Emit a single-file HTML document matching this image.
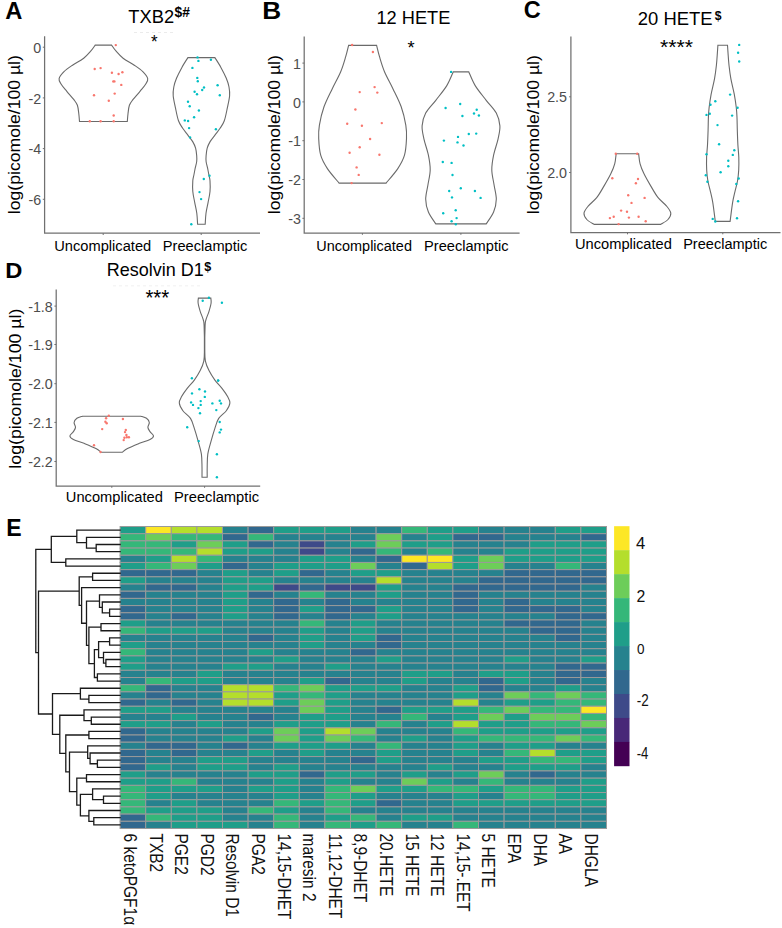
<!DOCTYPE html><html><head><meta charset="utf-8"><style>html,body{margin:0;padding:0;background:#fff;}body{width:782px;height:928px;position:relative;overflow:hidden;font-family:"Liberation Sans",sans-serif;}</style></head><body><svg width="782" height="928" viewBox="0 0 782 928" style="position:absolute;left:0;top:0;font-family:&quot;Liberation Sans&quot;,sans-serif">
<rect width="782" height="928" fill="#fff"/>
<text transform="translate(5.21,19.00) scale(1.0108,1)" font-size="23.48" font-weight="bold" fill="#000">A</text>
<text transform="translate(262.30,19.00) scale(1.1172,1)" font-size="23.48" font-weight="bold" fill="#000">B</text>
<text transform="translate(523.66,18.40) scale(1.0076,1)" font-size="23.33" font-weight="bold" fill="#000">C</text>
<text transform="translate(5.36,278.00) scale(1.0706,1)" font-size="22.17" font-weight="bold" fill="#000">D</text>
<text transform="translate(6.20,536.00) scale(0.9564,1)" font-size="24.06" font-weight="bold" fill="#000">E</text>
<path d="M44.6,36.3 V233.2 H260.0" fill="none" stroke="#707070" stroke-width="1.25"/>
<line x1="42.800000000000004" y1="47.2" x2="44.6" y2="47.2" stroke="#707070" stroke-width="1"/>
<line x1="42.800000000000004" y1="97.9" x2="44.6" y2="97.9" stroke="#707070" stroke-width="1"/>
<line x1="42.800000000000004" y1="148.6" x2="44.6" y2="148.6" stroke="#707070" stroke-width="1"/>
<line x1="42.800000000000004" y1="199.3" x2="44.6" y2="199.3" stroke="#707070" stroke-width="1"/>
<line x1="103.2" y1="233.2" x2="103.2" y2="235.0" stroke="#707070" stroke-width="1"/>
<line x1="201.2" y1="233.2" x2="201.2" y2="235.0" stroke="#707070" stroke-width="1"/>
<text x="41.3" y="52.88" font-size="14.3" fill="#4D4D4D" text-anchor="end">0</text>
<text x="41.3" y="103.58" font-size="14.3" fill="#4D4D4D" text-anchor="end">-2</text>
<text x="41.3" y="154.28" font-size="14.3" fill="#4D4D4D" text-anchor="end">-4</text>
<text x="41.3" y="204.98" font-size="14.3" fill="#4D4D4D" text-anchor="end">-6</text>
<text transform="translate(19.90,214.15) rotate(-90) scale(1.0143,1)" font-size="17.38" font-weight="normal" fill="#000">log(picomole/100 µl)</text>
<text transform="translate(54.20,250.70) scale(1.0124,1)" font-size="14.49" font-weight="normal" fill="#000">Uncomplicated</text>
<text transform="translate(162.83,250.70) scale(1.0092,1)" font-size="14.49" font-weight="normal" fill="#000">Preeclamptic</text>
<text transform="translate(128.33,23.00) scale(0.9861,1)" font-size="18.57" font-weight="normal" fill="#000">TXB2</text>
<text transform="translate(174.49,16.81) scale(0.9529,1)" font-size="14.48" font-weight="bold" fill="#000">$#</text>
<line x1="134" y1="32.5" x2="173" y2="32.5" stroke="#e6e6e6" stroke-width="0.8" stroke-dasharray="3 3"/>
<text transform="translate(150.95,48.31) scale(0.8986,1)" font-size="18.86" font-weight="normal" fill="#000">*</text>
<path d="M95.20,45.10 L111.60,45.10 C112.35,46.12 114.18,49.02 116.10,51.20 C118.02,53.38 120.07,55.87 123.10,58.20 C126.13,60.53 131.02,62.97 134.30,65.20 C137.58,67.43 140.57,69.37 142.80,71.60 C145.03,73.83 147.23,76.50 147.70,78.60 C148.17,80.70 146.88,82.08 145.60,84.20 C144.32,86.32 142.12,88.72 140.00,91.30 C137.88,93.88 134.67,97.37 132.90,99.70 C131.13,102.03 130.22,102.95 129.40,105.30 C128.58,107.65 128.35,111.10 128.00,113.80 C127.65,116.50 127.42,120.22 127.30,121.50 L79.50,121.50 C79.38,120.22 79.15,116.50 78.80,113.80 C78.45,111.10 78.22,107.65 77.40,105.30 C76.58,102.95 75.67,102.03 73.90,99.70 C72.13,97.37 68.92,93.88 66.80,91.30 C64.68,88.72 62.48,86.32 61.20,84.20 C59.92,82.08 58.63,80.70 59.10,78.60 C59.57,76.50 61.77,73.83 64.00,71.60 C66.23,69.37 69.22,67.43 72.50,65.20 C75.78,62.97 80.67,60.53 83.70,58.20 C86.73,55.87 88.78,53.38 90.70,51.20 C92.62,49.02 94.45,46.12 95.20,45.10 Z" fill="none" stroke="#6a6a6a" stroke-width="1.1"/>
<circle cx="115.8" cy="45.1" r="1.2" fill="#F8766D"/>
<circle cx="94.7" cy="69.0" r="1.2" fill="#F8766D"/>
<circle cx="100.6" cy="68.1" r="1.2" fill="#F8766D"/>
<circle cx="111.9" cy="72.7" r="1.2" fill="#F8766D"/>
<circle cx="118.6" cy="74.0" r="1.2" fill="#F8766D"/>
<circle cx="122.4" cy="72.3" r="1.2" fill="#F8766D"/>
<circle cx="113.3" cy="81.4" r="1.2" fill="#F8766D"/>
<circle cx="114.4" cy="81.4" r="1.2" fill="#F8766D"/>
<circle cx="121.3" cy="84.9" r="1.2" fill="#F8766D"/>
<circle cx="94.0" cy="95.2" r="1.2" fill="#F8766D"/>
<circle cx="114.7" cy="93.6" r="1.2" fill="#F8766D"/>
<circle cx="108.8" cy="100.7" r="1.2" fill="#F8766D"/>
<circle cx="113.7" cy="115.5" r="1.2" fill="#F8766D"/>
<circle cx="89.8" cy="121.2" r="1.2" fill="#F8766D"/>
<circle cx="100.6" cy="121.2" r="1.2" fill="#F8766D"/>
<circle cx="113.7" cy="121.2" r="1.2" fill="#F8766D"/>
<path d="M187.90,57.60 L214.90,57.60 C215.90,59.23 219.00,63.95 220.90,67.40 C222.80,70.85 224.95,75.03 226.30,78.30 C227.65,81.57 228.45,84.10 229.00,87.00 C229.55,89.90 229.87,92.27 229.60,95.70 C229.33,99.13 228.28,103.42 227.40,107.60 C226.52,111.78 225.52,117.35 224.30,120.80 C223.08,124.25 221.63,125.95 220.10,128.30 C218.57,130.65 216.77,132.68 215.10,134.90 C213.43,137.12 211.42,139.38 210.10,141.60 C208.78,143.82 207.87,145.85 207.20,148.20 C206.53,150.55 206.28,153.48 206.10,155.70 C205.92,157.92 205.85,159.42 206.10,161.50 C206.35,163.58 207.13,165.95 207.60,168.20 C208.07,170.45 208.50,172.92 208.90,175.00 C209.30,177.08 209.82,177.95 210.00,180.70 C210.18,183.45 210.32,187.88 210.00,191.50 C209.68,195.12 208.77,198.77 208.10,202.40 C207.43,206.03 206.48,209.65 206.00,213.30 C205.52,216.95 205.33,222.47 205.20,224.30 L197.60,224.30 C197.47,222.47 197.28,216.95 196.80,213.30 C196.32,209.65 195.37,206.03 194.70,202.40 C194.03,198.77 193.12,195.12 192.80,191.50 C192.48,187.88 192.62,183.45 192.80,180.70 C192.98,177.95 193.50,177.08 193.90,175.00 C194.30,172.92 194.73,170.45 195.20,168.20 C195.67,165.95 196.45,163.58 196.70,161.50 C196.95,159.42 196.88,157.92 196.70,155.70 C196.52,153.48 196.27,150.55 195.60,148.20 C194.93,145.85 194.02,143.82 192.70,141.60 C191.38,139.38 189.37,137.12 187.70,134.90 C186.03,132.68 184.23,130.65 182.70,128.30 C181.17,125.95 179.72,124.25 178.50,120.80 C177.28,117.35 176.28,111.78 175.40,107.60 C174.52,103.42 173.47,99.13 173.20,95.70 C172.93,92.27 173.25,89.90 173.80,87.00 C174.35,84.10 175.15,81.57 176.50,78.30 C177.85,75.03 180.00,70.85 181.90,67.40 C183.80,63.95 186.90,59.23 187.90,57.60 Z" fill="none" stroke="#6a6a6a" stroke-width="1.1"/>
<circle cx="197.5" cy="57.4" r="1.2" fill="#00BFC4"/>
<circle cx="198.4" cy="60.9" r="1.2" fill="#00BFC4"/>
<circle cx="210.9" cy="59.8" r="1.2" fill="#00BFC4"/>
<circle cx="192.4" cy="67.9" r="1.2" fill="#00BFC4"/>
<circle cx="197.3" cy="77.9" r="1.2" fill="#00BFC4"/>
<circle cx="197.8" cy="81.2" r="1.2" fill="#00BFC4"/>
<circle cx="217.6" cy="85.3" r="1.2" fill="#00BFC4"/>
<circle cx="204.0" cy="87.5" r="1.2" fill="#00BFC4"/>
<circle cx="202.2" cy="90.0" r="1.2" fill="#00BFC4"/>
<circle cx="194.6" cy="91.8" r="1.2" fill="#00BFC4"/>
<circle cx="197.0" cy="94.2" r="1.2" fill="#00BFC4"/>
<circle cx="219.8" cy="95.3" r="1.2" fill="#00BFC4"/>
<circle cx="188.0" cy="101.8" r="1.2" fill="#00BFC4"/>
<circle cx="189.7" cy="106.2" r="1.2" fill="#00BFC4"/>
<circle cx="198.9" cy="110.5" r="1.2" fill="#00BFC4"/>
<circle cx="194.1" cy="117.3" r="1.2" fill="#00BFC4"/>
<circle cx="184.8" cy="120.4" r="1.2" fill="#00BFC4"/>
<circle cx="188.1" cy="121.0" r="1.2" fill="#00BFC4"/>
<circle cx="189.1" cy="128.1" r="1.2" fill="#00BFC4"/>
<circle cx="215.9" cy="129.3" r="1.2" fill="#00BFC4"/>
<circle cx="190.1" cy="137.4" r="1.2" fill="#00BFC4"/>
<circle cx="209.5" cy="175.8" r="1.2" fill="#00BFC4"/>
<circle cx="203.8" cy="179.0" r="1.2" fill="#00BFC4"/>
<circle cx="199.5" cy="192.1" r="1.2" fill="#00BFC4"/>
<circle cx="201.1" cy="199.1" r="1.2" fill="#00BFC4"/>
<circle cx="191.3" cy="224.3" r="1.2" fill="#00BFC4"/>
<path d="M304.2,36.5 V233.0 H519.6" fill="none" stroke="#707070" stroke-width="1.25"/>
<line x1="302.4" y1="63.1" x2="304.2" y2="63.1" stroke="#707070" stroke-width="1"/>
<line x1="302.4" y1="101.9" x2="304.2" y2="101.9" stroke="#707070" stroke-width="1"/>
<line x1="302.4" y1="140.7" x2="304.2" y2="140.7" stroke="#707070" stroke-width="1"/>
<line x1="302.4" y1="179.5" x2="304.2" y2="179.5" stroke="#707070" stroke-width="1"/>
<line x1="302.4" y1="218.3" x2="304.2" y2="218.3" stroke="#707070" stroke-width="1"/>
<line x1="362.4" y1="233.0" x2="362.4" y2="234.8" stroke="#707070" stroke-width="1"/>
<line x1="460.9" y1="233.0" x2="460.9" y2="234.8" stroke="#707070" stroke-width="1"/>
<text x="300.9" y="68.78" font-size="14.3" fill="#4D4D4D" text-anchor="end">1</text>
<text x="300.9" y="107.58" font-size="14.3" fill="#4D4D4D" text-anchor="end">0</text>
<text x="300.9" y="146.38" font-size="14.3" fill="#4D4D4D" text-anchor="end">-1</text>
<text x="300.9" y="185.18" font-size="14.3" fill="#4D4D4D" text-anchor="end">-2</text>
<text x="300.9" y="223.98" font-size="14.3" fill="#4D4D4D" text-anchor="end">-3</text>
<text transform="translate(279.90,214.15) rotate(-90) scale(1.0143,1)" font-size="17.38" font-weight="normal" fill="#000">log(picomole/100 µl)</text>
<text transform="translate(316.31,250.50) scale(0.9985,1)" font-size="14.49" font-weight="normal" fill="#000">Uncomplicated</text>
<text transform="translate(424.03,250.50) scale(1.0092,1)" font-size="14.49" font-weight="normal" fill="#000">Preeclamptic</text>
<text transform="translate(376.43,24.20) scale(0.9664,1)" font-size="18.86" font-weight="normal" fill="#000">12 HETE</text>
<text transform="translate(407.43,54.01) scale(0.9577,1)" font-size="19.14" font-weight="normal" fill="#000">*</text>
<path d="M348.60,45.40 L376.60,45.40 C377.08,47.28 378.18,52.32 379.50,56.70 C380.82,61.08 382.28,66.42 384.50,71.70 C386.72,76.98 390.02,82.55 392.80,88.40 C395.58,94.25 399.03,100.67 401.20,106.80 C403.37,112.93 404.92,119.92 405.80,125.20 C406.68,130.48 406.72,133.50 406.50,138.50 C406.28,143.50 405.95,150.18 404.50,155.20 C403.05,160.22 400.87,163.95 397.80,168.60 C394.73,173.25 388.05,180.68 386.10,183.10 L339.10,183.10 C337.15,180.68 330.47,173.25 327.40,168.60 C324.33,163.95 322.15,160.22 320.70,155.20 C319.25,150.18 318.92,143.50 318.70,138.50 C318.48,133.50 318.52,130.48 319.40,125.20 C320.28,119.92 321.83,112.93 324.00,106.80 C326.17,100.67 329.62,94.25 332.40,88.40 C335.18,82.55 338.48,76.98 340.70,71.70 C342.92,66.42 344.38,61.08 345.70,56.70 C347.02,52.32 348.12,47.28 348.60,45.40 Z" fill="none" stroke="#6a6a6a" stroke-width="1.1"/>
<circle cx="352.1" cy="45.0" r="1.2" fill="#F8766D"/>
<circle cx="372.9" cy="52.0" r="1.2" fill="#F8766D"/>
<circle cx="374.6" cy="87.1" r="1.2" fill="#F8766D"/>
<circle cx="359.7" cy="92.1" r="1.2" fill="#F8766D"/>
<circle cx="377.3" cy="92.6" r="1.2" fill="#F8766D"/>
<circle cx="355.4" cy="109.5" r="1.2" fill="#F8766D"/>
<circle cx="347.2" cy="123.8" r="1.2" fill="#F8766D"/>
<circle cx="361.9" cy="125.8" r="1.2" fill="#F8766D"/>
<circle cx="381.8" cy="123.1" r="1.2" fill="#F8766D"/>
<circle cx="370.1" cy="139.0" r="1.2" fill="#F8766D"/>
<circle cx="359.7" cy="147.2" r="1.2" fill="#F8766D"/>
<circle cx="349.6" cy="152.7" r="1.2" fill="#F8766D"/>
<circle cx="379.4" cy="154.7" r="1.2" fill="#F8766D"/>
<circle cx="356.6" cy="167.4" r="1.2" fill="#F8766D"/>
<circle cx="358.7" cy="174.9" r="1.2" fill="#F8766D"/>
<circle cx="351.6" cy="183.1" r="1.2" fill="#F8766D"/>
<path d="M453.20,71.90 L468.80,71.90 C469.87,74.18 472.30,80.87 475.20,85.60 C478.10,90.33 482.68,95.72 486.20,100.30 C489.72,104.88 494.02,108.83 496.30,113.10 C498.58,117.37 499.60,121.62 499.90,125.90 C500.20,130.18 499.15,133.92 498.10,138.80 C497.05,143.68 494.65,150.02 493.60,155.20 C492.55,160.38 491.73,165.02 491.80,169.90 C491.87,174.78 493.25,179.62 494.00,184.50 C494.75,189.38 496.37,194.62 496.30,199.20 C496.23,203.78 495.28,207.88 493.60,212.00 C491.92,216.12 487.43,221.92 486.20,223.90 L435.80,223.90 C434.57,221.92 430.08,216.12 428.40,212.00 C426.72,207.88 425.77,203.78 425.70,199.20 C425.63,194.62 427.25,189.38 428.00,184.50 C428.75,179.62 430.13,174.78 430.20,169.90 C430.27,165.02 429.45,160.38 428.40,155.20 C427.35,150.02 424.95,143.68 423.90,138.80 C422.85,133.92 421.80,130.18 422.10,125.90 C422.40,121.62 423.42,117.37 425.70,113.10 C427.98,108.83 432.28,104.88 435.80,100.30 C439.32,95.72 443.90,90.33 446.80,85.60 C449.70,80.87 452.13,74.18 453.20,71.90 Z" fill="none" stroke="#6a6a6a" stroke-width="1.1"/>
<circle cx="451.1" cy="71.9" r="1.2" fill="#00BFC4"/>
<circle cx="460.2" cy="104.0" r="1.2" fill="#00BFC4"/>
<circle cx="445.6" cy="108.0" r="1.2" fill="#00BFC4"/>
<circle cx="476.7" cy="109.8" r="1.2" fill="#00BFC4"/>
<circle cx="474.0" cy="113.5" r="1.2" fill="#00BFC4"/>
<circle cx="478.9" cy="115.5" r="1.2" fill="#00BFC4"/>
<circle cx="462.4" cy="116.0" r="1.2" fill="#00BFC4"/>
<circle cx="468.8" cy="134.0" r="1.2" fill="#00BFC4"/>
<circle cx="476.2" cy="133.6" r="1.2" fill="#00BFC4"/>
<circle cx="458.0" cy="136.9" r="1.2" fill="#00BFC4"/>
<circle cx="443.9" cy="140.6" r="1.2" fill="#00BFC4"/>
<circle cx="457.5" cy="142.4" r="1.2" fill="#00BFC4"/>
<circle cx="463.5" cy="145.5" r="1.2" fill="#00BFC4"/>
<circle cx="442.8" cy="162.0" r="1.2" fill="#00BFC4"/>
<circle cx="451.6" cy="162.9" r="1.2" fill="#00BFC4"/>
<circle cx="452.5" cy="175.0" r="1.2" fill="#00BFC4"/>
<circle cx="460.8" cy="188.2" r="1.2" fill="#00BFC4"/>
<circle cx="449.2" cy="191.0" r="1.2" fill="#00BFC4"/>
<circle cx="474.9" cy="191.0" r="1.2" fill="#00BFC4"/>
<circle cx="452.0" cy="197.4" r="1.2" fill="#00BFC4"/>
<circle cx="480.6" cy="197.9" r="1.2" fill="#00BFC4"/>
<circle cx="455.7" cy="210.2" r="1.2" fill="#00BFC4"/>
<circle cx="443.2" cy="213.3" r="1.2" fill="#00BFC4"/>
<circle cx="456.6" cy="218.1" r="1.2" fill="#00BFC4"/>
<circle cx="451.6" cy="221.2" r="1.2" fill="#00BFC4"/>
<circle cx="455.8" cy="224.3" r="1.2" fill="#00BFC4"/>
<path d="M570.9,36.6 V232.5 H780.5" fill="none" stroke="#707070" stroke-width="1.25"/>
<line x1="569.1" y1="96.8" x2="570.9" y2="96.8" stroke="#707070" stroke-width="1"/>
<line x1="569.1" y1="172.5" x2="570.9" y2="172.5" stroke="#707070" stroke-width="1"/>
<line x1="627.5" y1="232.5" x2="627.5" y2="234.3" stroke="#707070" stroke-width="1"/>
<line x1="722.8" y1="232.5" x2="722.8" y2="234.3" stroke="#707070" stroke-width="1"/>
<text x="567.0" y="102.48" font-size="14.3" fill="#4D4D4D" text-anchor="end">2.5</text>
<text x="567.0" y="178.18" font-size="14.3" fill="#4D4D4D" text-anchor="end">2.0</text>
<text transform="translate(539.40,214.15) rotate(-90) scale(1.0143,1)" font-size="17.38" font-weight="normal" fill="#000">log(picomole/100 µl)</text>
<text transform="translate(575.00,249.40) scale(1.0113,1)" font-size="14.49" font-weight="normal" fill="#000">Uncomplicated</text>
<text transform="translate(683.13,249.40) scale(1.0055,1)" font-size="14.49" font-weight="normal" fill="#000">Preeclamptic</text>
<text transform="translate(637.78,24.60) scale(0.9851,1)" font-size="18.71" font-weight="normal" fill="#000">20 HETE</text>
<text transform="translate(714.82,20.16) scale(0.9740,1)" font-size="12.52" font-weight="bold" fill="#000">$</text>
<text transform="translate(659.98,54.30) scale(1.0777,1)" font-size="19.71" font-weight="normal" fill="#000">****</text>
<path d="M616.15,153.80 L638.65,153.80 C638.89,155.48 639.21,160.57 640.10,163.90 C640.99,167.23 642.18,170.05 644.00,173.80 C645.82,177.55 648.65,182.42 651.00,186.40 C653.35,190.38 655.50,194.42 658.10,197.70 C660.70,200.98 664.48,203.53 666.60,206.10 C668.72,208.67 670.57,210.87 670.80,213.10 C671.03,215.33 669.68,217.62 668.00,219.50 C666.32,221.38 661.92,223.58 660.70,224.40 L594.10,224.40 C592.88,223.58 588.48,221.38 586.80,219.50 C585.12,217.62 583.77,215.33 584.00,213.10 C584.23,210.87 586.08,208.67 588.20,206.10 C590.32,203.53 594.10,200.98 596.70,197.70 C599.30,194.42 601.45,190.38 603.80,186.40 C606.15,182.42 608.98,177.55 610.80,173.80 C612.62,170.05 613.81,167.23 614.70,163.90 C615.59,160.57 615.91,155.48 616.15,153.80 Z" fill="none" stroke="#6a6a6a" stroke-width="1.1"/>
<circle cx="615.8" cy="153.8" r="1.2" fill="#F8766D"/>
<circle cx="637.2" cy="153.8" r="1.2" fill="#F8766D"/>
<circle cx="612.3" cy="178.3" r="1.2" fill="#F8766D"/>
<circle cx="638.0" cy="179.0" r="1.2" fill="#F8766D"/>
<circle cx="635.9" cy="183.3" r="1.2" fill="#F8766D"/>
<circle cx="628.2" cy="195.3" r="1.2" fill="#F8766D"/>
<circle cx="644.6" cy="197.9" r="1.2" fill="#F8766D"/>
<circle cx="631.5" cy="202.9" r="1.2" fill="#F8766D"/>
<circle cx="621.1" cy="210.6" r="1.2" fill="#F8766D"/>
<circle cx="627.0" cy="211.7" r="1.2" fill="#F8766D"/>
<circle cx="609.9" cy="218.1" r="1.2" fill="#F8766D"/>
<circle cx="613.7" cy="216.7" r="1.2" fill="#F8766D"/>
<circle cx="628.9" cy="217.6" r="1.2" fill="#F8766D"/>
<circle cx="638.6" cy="216.7" r="1.2" fill="#F8766D"/>
<circle cx="645.7" cy="221.2" r="1.2" fill="#F8766D"/>
<circle cx="618.6" cy="224.1" r="1.2" fill="#F8766D"/>
<path d="M717.90,45.20 L727.50,45.20 C727.58,46.43 727.75,49.27 728.00,52.60 C728.25,55.93 728.52,60.83 729.00,65.20 C729.48,69.57 730.02,73.95 730.90,78.80 C731.78,83.65 733.40,89.47 734.30,94.30 C735.20,99.13 735.85,103.93 736.30,107.80 C736.75,111.67 736.83,113.80 737.00,117.50 C737.17,121.20 737.15,125.42 737.30,130.00 C737.45,134.58 737.65,140.45 737.90,145.00 C738.15,149.55 738.67,153.08 738.80,157.30 C738.93,161.52 738.92,166.35 738.70,170.30 C738.48,174.25 738.13,177.42 737.50,181.00 C736.87,184.58 735.72,188.20 734.90,191.80 C734.08,195.40 733.40,197.67 732.60,202.60 C731.80,207.53 730.52,218.27 730.10,221.40 L715.30,221.40 C714.88,218.27 713.60,207.53 712.80,202.60 C712.00,197.67 711.32,195.40 710.50,191.80 C709.68,188.20 708.53,184.58 707.90,181.00 C707.27,177.42 706.92,174.25 706.70,170.30 C706.48,166.35 706.47,161.52 706.60,157.30 C706.73,153.08 707.25,149.55 707.50,145.00 C707.75,140.45 707.95,134.58 708.10,130.00 C708.25,125.42 708.23,121.20 708.40,117.50 C708.57,113.80 708.65,111.67 709.10,107.80 C709.55,103.93 710.20,99.13 711.10,94.30 C712.00,89.47 713.62,83.65 714.50,78.80 C715.38,73.95 715.92,69.57 716.40,65.20 C716.88,60.83 717.15,55.93 717.40,52.60 C717.65,49.27 717.82,46.43 717.90,45.20 Z" fill="none" stroke="#6a6a6a" stroke-width="1.1"/>
<circle cx="739.2" cy="44.9" r="1.2" fill="#00BFC4"/>
<circle cx="738.1" cy="52.7" r="1.2" fill="#00BFC4"/>
<circle cx="739.2" cy="61.5" r="1.2" fill="#00BFC4"/>
<circle cx="730.1" cy="94.6" r="1.2" fill="#00BFC4"/>
<circle cx="715.3" cy="101.2" r="1.2" fill="#00BFC4"/>
<circle cx="710.5" cy="104.8" r="1.2" fill="#00BFC4"/>
<circle cx="737.6" cy="107.8" r="1.2" fill="#00BFC4"/>
<circle cx="706.5" cy="114.9" r="1.2" fill="#00BFC4"/>
<circle cx="709.8" cy="113.8" r="1.2" fill="#00BFC4"/>
<circle cx="732.1" cy="115.6" r="1.2" fill="#00BFC4"/>
<circle cx="717.5" cy="125.1" r="1.2" fill="#00BFC4"/>
<circle cx="719.1" cy="144.3" r="1.2" fill="#00BFC4"/>
<circle cx="734.3" cy="150.2" r="1.2" fill="#00BFC4"/>
<circle cx="706.5" cy="154.2" r="1.2" fill="#00BFC4"/>
<circle cx="732.8" cy="154.9" r="1.2" fill="#00BFC4"/>
<circle cx="728.3" cy="160.8" r="1.2" fill="#00BFC4"/>
<circle cx="728.3" cy="166.3" r="1.2" fill="#00BFC4"/>
<circle cx="720.6" cy="172.3" r="1.2" fill="#00BFC4"/>
<circle cx="705.8" cy="175.2" r="1.2" fill="#00BFC4"/>
<circle cx="707.4" cy="181.8" r="1.2" fill="#00BFC4"/>
<circle cx="738.7" cy="178.5" r="1.2" fill="#00BFC4"/>
<circle cx="736.3" cy="184.0" r="1.2" fill="#00BFC4"/>
<circle cx="738.1" cy="201.2" r="1.2" fill="#00BFC4"/>
<circle cx="737.0" cy="218.2" r="1.2" fill="#00BFC4"/>
<circle cx="712.7" cy="218.9" r="1.2" fill="#00BFC4"/>
<circle cx="715.3" cy="221.5" r="1.2" fill="#00BFC4"/>
<path d="M56.2,289.5 V486.0 H260.2" fill="none" stroke="#707070" stroke-width="1.25"/>
<line x1="54.400000000000006" y1="306.1" x2="56.2" y2="306.1" stroke="#707070" stroke-width="1"/>
<line x1="54.400000000000006" y1="344.5" x2="56.2" y2="344.5" stroke="#707070" stroke-width="1"/>
<line x1="54.400000000000006" y1="383.7" x2="56.2" y2="383.7" stroke="#707070" stroke-width="1"/>
<line x1="54.400000000000006" y1="422.4" x2="56.2" y2="422.4" stroke="#707070" stroke-width="1"/>
<line x1="54.400000000000006" y1="461.5" x2="56.2" y2="461.5" stroke="#707070" stroke-width="1"/>
<line x1="111.8" y1="486.0" x2="111.8" y2="487.8" stroke="#707070" stroke-width="1"/>
<line x1="204.6" y1="486.0" x2="204.6" y2="487.8" stroke="#707070" stroke-width="1"/>
<text x="52.8" y="311.78" font-size="14.3" fill="#4D4D4D" text-anchor="end">-1.8</text>
<text x="52.8" y="350.18" font-size="14.3" fill="#4D4D4D" text-anchor="end">-1.9</text>
<text x="52.8" y="389.38" font-size="14.3" fill="#4D4D4D" text-anchor="end">-2.0</text>
<text x="52.8" y="428.08" font-size="14.3" fill="#4D4D4D" text-anchor="end">-2.1</text>
<text x="52.8" y="467.18" font-size="14.3" fill="#4D4D4D" text-anchor="end">-2.2</text>
<text transform="translate(20.90,468.65) rotate(-90) scale(1.0208,1)" font-size="17.38" font-weight="normal" fill="#000">log(picomole/100 µl)</text>
<text transform="translate(65.80,502.20) scale(1.0134,1)" font-size="14.49" font-weight="normal" fill="#000">Uncomplicated</text>
<text transform="translate(174.02,502.20) scale(1.0152,1)" font-size="14.49" font-weight="normal" fill="#000">Preeclamptic</text>
<text transform="translate(106.86,276.10) scale(0.9706,1)" font-size="18.55" font-weight="normal" fill="#000">Resolvin D1</text>
<text transform="translate(204.21,270.69) scale(1.0349,1)" font-size="12.15" font-weight="bold" fill="#000">$</text>
<line x1="113" y1="285.8" x2="203" y2="285.8" stroke="#ececec" stroke-width="0.8" stroke-dasharray="3 3"/>
<text transform="translate(145.39,305.38) scale(0.9290,1)" font-size="22.00" font-weight="normal" fill="#000">***</text>
<path d="M82.50,416.20 L140.90,416.20 C141.83,416.55 145.10,417.25 146.50,418.30 C147.90,419.35 149.07,420.98 149.30,422.50 C149.53,424.02 147.78,425.88 147.90,427.40 C148.02,428.92 149.07,430.18 150.00,431.60 C150.93,433.02 153.50,434.60 153.50,435.90 C153.50,437.20 152.45,438.12 150.00,439.40 C147.55,440.68 142.55,442.08 138.80,443.60 C135.05,445.12 130.27,447.05 127.50,448.50 C124.73,449.95 123.08,451.67 122.20,452.30 L101.20,452.30 C100.32,451.67 98.67,449.95 95.90,448.50 C93.13,447.05 88.35,445.12 84.60,443.60 C80.85,442.08 75.85,440.68 73.40,439.40 C70.95,438.12 69.90,437.20 69.90,435.90 C69.90,434.60 72.47,433.02 73.40,431.60 C74.33,430.18 75.38,428.92 75.50,427.40 C75.62,425.88 73.87,424.02 74.10,422.50 C74.33,420.98 75.50,419.35 76.90,418.30 C78.30,417.25 81.57,416.55 82.50,416.20 Z" fill="none" stroke="#6a6a6a" stroke-width="1.1"/>
<circle cx="108.8" cy="415.8" r="1.2" fill="#F8766D"/>
<circle cx="106.1" cy="418.3" r="1.2" fill="#F8766D"/>
<circle cx="105.4" cy="421.8" r="1.2" fill="#F8766D"/>
<circle cx="106.7" cy="423.2" r="1.2" fill="#F8766D"/>
<circle cx="122.9" cy="419.0" r="1.2" fill="#F8766D"/>
<circle cx="102.2" cy="429.1" r="1.2" fill="#F8766D"/>
<circle cx="125.8" cy="430.0" r="1.2" fill="#F8766D"/>
<circle cx="125.0" cy="432.1" r="1.2" fill="#F8766D"/>
<circle cx="126.4" cy="434.9" r="1.2" fill="#F8766D"/>
<circle cx="124.4" cy="437.7" r="1.2" fill="#F8766D"/>
<circle cx="126.8" cy="437.3" r="1.2" fill="#F8766D"/>
<circle cx="128.9" cy="437.3" r="1.2" fill="#F8766D"/>
<circle cx="123.7" cy="440.1" r="1.2" fill="#F8766D"/>
<circle cx="94.0" cy="445.3" r="1.2" fill="#F8766D"/>
<circle cx="100.5" cy="452.0" r="1.2" fill="#F8766D"/>
<path d="M198.40,298.10 L210.80,298.10 C210.85,298.92 211.40,300.80 211.10,303.00 C210.80,305.20 209.85,308.53 209.00,311.30 C208.15,314.07 206.65,317.22 206.00,319.60 C205.35,321.98 205.30,320.65 205.10,325.60 C204.90,330.55 204.75,343.38 204.80,349.30 C204.85,355.22 204.70,357.55 205.40,361.10 C206.10,364.65 207.42,367.43 209.00,370.60 C210.58,373.77 212.73,377.13 214.90,380.10 C217.07,383.07 219.88,385.65 222.00,388.40 C224.12,391.15 226.28,394.17 227.60,396.60 C228.92,399.03 230.12,400.65 229.90,403.00 C229.68,405.35 228.17,408.13 226.30,410.70 C224.43,413.27 220.62,415.42 218.70,418.40 C216.78,421.38 216.08,424.77 214.80,428.60 C213.52,432.43 212.17,437.13 211.00,441.40 C209.83,445.67 208.43,449.93 207.80,454.20 C207.17,458.47 207.30,463.17 207.20,467.00 C207.10,470.83 207.20,475.50 207.20,477.20 L202.00,477.20 C202.00,475.50 202.10,470.83 202.00,467.00 C201.90,463.17 202.03,458.47 201.40,454.20 C200.77,449.93 199.37,445.67 198.20,441.40 C197.03,437.13 195.68,432.43 194.40,428.60 C193.12,424.77 192.42,421.38 190.50,418.40 C188.58,415.42 184.77,413.27 182.90,410.70 C181.03,408.13 179.52,405.35 179.30,403.00 C179.08,400.65 180.28,399.03 181.60,396.60 C182.92,394.17 185.08,391.15 187.20,388.40 C189.32,385.65 192.13,383.07 194.30,380.10 C196.47,377.13 198.62,373.77 200.20,370.60 C201.78,367.43 203.10,364.65 203.80,361.10 C204.50,357.55 204.35,355.22 204.40,349.30 C204.45,343.38 204.30,330.55 204.10,325.60 C203.90,320.65 203.85,321.98 203.20,319.60 C202.55,317.22 201.05,314.07 200.20,311.30 C199.35,308.53 198.40,305.20 198.10,303.00 C197.80,300.80 198.35,298.92 198.40,298.10 Z" fill="none" stroke="#6a6a6a" stroke-width="1.1"/>
<circle cx="208.9" cy="297.8" r="1.2" fill="#00BFC4"/>
<circle cx="202.7" cy="300.7" r="1.2" fill="#00BFC4"/>
<circle cx="221.9" cy="302.8" r="1.2" fill="#00BFC4"/>
<circle cx="191.9" cy="378.3" r="1.2" fill="#00BFC4"/>
<circle cx="218.1" cy="380.5" r="1.2" fill="#00BFC4"/>
<circle cx="218.2" cy="380.6" r="1.2" fill="#00BFC4"/>
<circle cx="199.4" cy="389.2" r="1.2" fill="#00BFC4"/>
<circle cx="205.0" cy="391.5" r="1.2" fill="#00BFC4"/>
<circle cx="192.0" cy="393.4" r="1.2" fill="#00BFC4"/>
<circle cx="204.8" cy="396.9" r="1.2" fill="#00BFC4"/>
<circle cx="200.7" cy="401.1" r="1.2" fill="#00BFC4"/>
<circle cx="191.1" cy="402.4" r="1.2" fill="#00BFC4"/>
<circle cx="193.0" cy="404.9" r="1.2" fill="#00BFC4"/>
<circle cx="200.7" cy="404.9" r="1.2" fill="#00BFC4"/>
<circle cx="212.4" cy="403.4" r="1.2" fill="#00BFC4"/>
<circle cx="219.7" cy="400.7" r="1.2" fill="#00BFC4"/>
<circle cx="221.0" cy="403.4" r="1.2" fill="#00BFC4"/>
<circle cx="198.4" cy="408.1" r="1.2" fill="#00BFC4"/>
<circle cx="216.3" cy="410.1" r="1.2" fill="#00BFC4"/>
<circle cx="200.0" cy="413.2" r="1.2" fill="#00BFC4"/>
<circle cx="219.7" cy="422.0" r="1.2" fill="#00BFC4"/>
<circle cx="187.2" cy="427.3" r="1.2" fill="#00BFC4"/>
<circle cx="221.0" cy="429.6" r="1.2" fill="#00BFC4"/>
<circle cx="219.7" cy="432.4" r="1.2" fill="#00BFC4"/>
<circle cx="198.7" cy="441.1" r="1.2" fill="#00BFC4"/>
<circle cx="216.9" cy="454.2" r="1.2" fill="#00BFC4"/>
<circle cx="216.9" cy="477.2" r="1.2" fill="#00BFC4"/>
<g stroke="#9a9a9a" stroke-width="1">
<rect x="120.10" y="526.50" width="25.60" height="7.19" fill="#1F9E89"/>
<rect x="145.70" y="526.50" width="25.60" height="7.19" fill="#FDE725"/>
<rect x="171.30" y="526.50" width="25.60" height="7.19" fill="#B4DE2C"/>
<rect x="196.90" y="526.50" width="25.60" height="7.19" fill="#B4DE2C"/>
<rect x="222.50" y="526.50" width="25.60" height="7.19" fill="#26828E"/>
<rect x="248.10" y="526.50" width="25.60" height="7.19" fill="#31688E"/>
<rect x="273.70" y="526.50" width="25.60" height="7.19" fill="#1F9E89"/>
<rect x="299.30" y="526.50" width="25.60" height="7.19" fill="#1F9E89"/>
<rect x="324.90" y="526.50" width="25.60" height="7.19" fill="#1F9E89"/>
<rect x="350.50" y="526.50" width="25.60" height="7.19" fill="#26828E"/>
<rect x="376.10" y="526.50" width="25.60" height="7.19" fill="#26828E"/>
<rect x="401.70" y="526.50" width="25.60" height="7.19" fill="#35B779"/>
<rect x="427.30" y="526.50" width="25.60" height="7.19" fill="#1F9E89"/>
<rect x="452.90" y="526.50" width="25.60" height="7.19" fill="#1F9E89"/>
<rect x="478.50" y="526.50" width="25.60" height="7.19" fill="#26828E"/>
<rect x="504.10" y="526.50" width="25.60" height="7.19" fill="#26828E"/>
<rect x="529.70" y="526.50" width="25.60" height="7.19" fill="#26828E"/>
<rect x="555.30" y="526.50" width="25.60" height="7.19" fill="#1F9E89"/>
<rect x="580.90" y="526.50" width="25.60" height="7.19" fill="#1F9E89"/>
<rect x="120.10" y="533.69" width="25.60" height="7.19" fill="#35B779"/>
<rect x="145.70" y="533.69" width="25.60" height="7.19" fill="#6DCD59"/>
<rect x="171.30" y="533.69" width="25.60" height="7.19" fill="#35B779"/>
<rect x="196.90" y="533.69" width="25.60" height="7.19" fill="#35B779"/>
<rect x="222.50" y="533.69" width="25.60" height="7.19" fill="#31688E"/>
<rect x="248.10" y="533.69" width="25.60" height="7.19" fill="#35B779"/>
<rect x="273.70" y="533.69" width="25.60" height="7.19" fill="#26828E"/>
<rect x="299.30" y="533.69" width="25.60" height="7.19" fill="#26828E"/>
<rect x="324.90" y="533.69" width="25.60" height="7.19" fill="#26828E"/>
<rect x="350.50" y="533.69" width="25.60" height="7.19" fill="#26828E"/>
<rect x="376.10" y="533.69" width="25.60" height="7.19" fill="#6DCD59"/>
<rect x="401.70" y="533.69" width="25.60" height="7.19" fill="#26828E"/>
<rect x="427.30" y="533.69" width="25.60" height="7.19" fill="#1F9E89"/>
<rect x="452.90" y="533.69" width="25.60" height="7.19" fill="#31688E"/>
<rect x="478.50" y="533.69" width="25.60" height="7.19" fill="#31688E"/>
<rect x="504.10" y="533.69" width="25.60" height="7.19" fill="#26828E"/>
<rect x="529.70" y="533.69" width="25.60" height="7.19" fill="#26828E"/>
<rect x="555.30" y="533.69" width="25.60" height="7.19" fill="#26828E"/>
<rect x="580.90" y="533.69" width="25.60" height="7.19" fill="#31688E"/>
<rect x="120.10" y="540.88" width="25.60" height="7.19" fill="#35B779"/>
<rect x="145.70" y="540.88" width="25.60" height="7.19" fill="#35B779"/>
<rect x="171.30" y="540.88" width="25.60" height="7.19" fill="#1F9E89"/>
<rect x="196.90" y="540.88" width="25.60" height="7.19" fill="#6DCD59"/>
<rect x="222.50" y="540.88" width="25.60" height="7.19" fill="#1F9E89"/>
<rect x="248.10" y="540.88" width="25.60" height="7.19" fill="#31688E"/>
<rect x="273.70" y="540.88" width="25.60" height="7.19" fill="#26828E"/>
<rect x="299.30" y="540.88" width="25.60" height="7.19" fill="#3E4A89"/>
<rect x="324.90" y="540.88" width="25.60" height="7.19" fill="#26828E"/>
<rect x="350.50" y="540.88" width="25.60" height="7.19" fill="#1F9E89"/>
<rect x="376.10" y="540.88" width="25.60" height="7.19" fill="#6DCD59"/>
<rect x="401.70" y="540.88" width="25.60" height="7.19" fill="#1F9E89"/>
<rect x="427.30" y="540.88" width="25.60" height="7.19" fill="#1F9E89"/>
<rect x="452.90" y="540.88" width="25.60" height="7.19" fill="#26828E"/>
<rect x="478.50" y="540.88" width="25.60" height="7.19" fill="#26828E"/>
<rect x="504.10" y="540.88" width="25.60" height="7.19" fill="#26828E"/>
<rect x="529.70" y="540.88" width="25.60" height="7.19" fill="#1F9E89"/>
<rect x="555.30" y="540.88" width="25.60" height="7.19" fill="#1F9E89"/>
<rect x="580.90" y="540.88" width="25.60" height="7.19" fill="#1F9E89"/>
<rect x="120.10" y="548.07" width="25.60" height="7.19" fill="#35B779"/>
<rect x="145.70" y="548.07" width="25.60" height="7.19" fill="#35B779"/>
<rect x="171.30" y="548.07" width="25.60" height="7.19" fill="#35B779"/>
<rect x="196.90" y="548.07" width="25.60" height="7.19" fill="#B4DE2C"/>
<rect x="222.50" y="548.07" width="25.60" height="7.19" fill="#1F9E89"/>
<rect x="248.10" y="548.07" width="25.60" height="7.19" fill="#1F9E89"/>
<rect x="273.70" y="548.07" width="25.60" height="7.19" fill="#26828E"/>
<rect x="299.30" y="548.07" width="25.60" height="7.19" fill="#3E4A89"/>
<rect x="324.90" y="548.07" width="25.60" height="7.19" fill="#26828E"/>
<rect x="350.50" y="548.07" width="25.60" height="7.19" fill="#31688E"/>
<rect x="376.10" y="548.07" width="25.60" height="7.19" fill="#35B779"/>
<rect x="401.70" y="548.07" width="25.60" height="7.19" fill="#26828E"/>
<rect x="427.30" y="548.07" width="25.60" height="7.19" fill="#35B779"/>
<rect x="452.90" y="548.07" width="25.60" height="7.19" fill="#26828E"/>
<rect x="478.50" y="548.07" width="25.60" height="7.19" fill="#26828E"/>
<rect x="504.10" y="548.07" width="25.60" height="7.19" fill="#1F9E89"/>
<rect x="529.70" y="548.07" width="25.60" height="7.19" fill="#1F9E89"/>
<rect x="555.30" y="548.07" width="25.60" height="7.19" fill="#1F9E89"/>
<rect x="580.90" y="548.07" width="25.60" height="7.19" fill="#1F9E89"/>
<rect x="120.10" y="555.26" width="25.60" height="7.19" fill="#26828E"/>
<rect x="145.70" y="555.26" width="25.60" height="7.19" fill="#1F9E89"/>
<rect x="171.30" y="555.26" width="25.60" height="7.19" fill="#B4DE2C"/>
<rect x="196.90" y="555.26" width="25.60" height="7.19" fill="#35B779"/>
<rect x="222.50" y="555.26" width="25.60" height="7.19" fill="#26828E"/>
<rect x="248.10" y="555.26" width="25.60" height="7.19" fill="#26828E"/>
<rect x="273.70" y="555.26" width="25.60" height="7.19" fill="#26828E"/>
<rect x="299.30" y="555.26" width="25.60" height="7.19" fill="#1F9E89"/>
<rect x="324.90" y="555.26" width="25.60" height="7.19" fill="#1F9E89"/>
<rect x="350.50" y="555.26" width="25.60" height="7.19" fill="#26828E"/>
<rect x="376.10" y="555.26" width="25.60" height="7.19" fill="#31688E"/>
<rect x="401.70" y="555.26" width="25.60" height="7.19" fill="#FDE725"/>
<rect x="427.30" y="555.26" width="25.60" height="7.19" fill="#FDE725"/>
<rect x="452.90" y="555.26" width="25.60" height="7.19" fill="#1F9E89"/>
<rect x="478.50" y="555.26" width="25.60" height="7.19" fill="#6DCD59"/>
<rect x="504.10" y="555.26" width="25.60" height="7.19" fill="#1F9E89"/>
<rect x="529.70" y="555.26" width="25.60" height="7.19" fill="#1F9E89"/>
<rect x="555.30" y="555.26" width="25.60" height="7.19" fill="#1F9E89"/>
<rect x="580.90" y="555.26" width="25.60" height="7.19" fill="#1F9E89"/>
<rect x="120.10" y="562.45" width="25.60" height="7.19" fill="#1F9E89"/>
<rect x="145.70" y="562.45" width="25.60" height="7.19" fill="#35B779"/>
<rect x="171.30" y="562.45" width="25.60" height="7.19" fill="#6DCD59"/>
<rect x="196.90" y="562.45" width="25.60" height="7.19" fill="#1F9E89"/>
<rect x="222.50" y="562.45" width="25.60" height="7.19" fill="#31688E"/>
<rect x="248.10" y="562.45" width="25.60" height="7.19" fill="#26828E"/>
<rect x="273.70" y="562.45" width="25.60" height="7.19" fill="#1F9E89"/>
<rect x="299.30" y="562.45" width="25.60" height="7.19" fill="#1F9E89"/>
<rect x="324.90" y="562.45" width="25.60" height="7.19" fill="#1F9E89"/>
<rect x="350.50" y="562.45" width="25.60" height="7.19" fill="#6DCD59"/>
<rect x="376.10" y="562.45" width="25.60" height="7.19" fill="#26828E"/>
<rect x="401.70" y="562.45" width="25.60" height="7.19" fill="#31688E"/>
<rect x="427.30" y="562.45" width="25.60" height="7.19" fill="#B4DE2C"/>
<rect x="452.90" y="562.45" width="25.60" height="7.19" fill="#1F9E89"/>
<rect x="478.50" y="562.45" width="25.60" height="7.19" fill="#6DCD59"/>
<rect x="504.10" y="562.45" width="25.60" height="7.19" fill="#26828E"/>
<rect x="529.70" y="562.45" width="25.60" height="7.19" fill="#26828E"/>
<rect x="555.30" y="562.45" width="25.60" height="7.19" fill="#35B779"/>
<rect x="580.90" y="562.45" width="25.60" height="7.19" fill="#26828E"/>
<rect x="120.10" y="569.64" width="25.60" height="7.19" fill="#31688E"/>
<rect x="145.70" y="569.64" width="25.60" height="7.19" fill="#31688E"/>
<rect x="171.30" y="569.64" width="25.60" height="7.19" fill="#31688E"/>
<rect x="196.90" y="569.64" width="25.60" height="7.19" fill="#26828E"/>
<rect x="222.50" y="569.64" width="25.60" height="7.19" fill="#1F9E89"/>
<rect x="248.10" y="569.64" width="25.60" height="7.19" fill="#26828E"/>
<rect x="273.70" y="569.64" width="25.60" height="7.19" fill="#1F9E89"/>
<rect x="299.30" y="569.64" width="25.60" height="7.19" fill="#31688E"/>
<rect x="324.90" y="569.64" width="25.60" height="7.19" fill="#26828E"/>
<rect x="350.50" y="569.64" width="25.60" height="7.19" fill="#1F9E89"/>
<rect x="376.10" y="569.64" width="25.60" height="7.19" fill="#1F9E89"/>
<rect x="401.70" y="569.64" width="25.60" height="7.19" fill="#26828E"/>
<rect x="427.30" y="569.64" width="25.60" height="7.19" fill="#26828E"/>
<rect x="452.90" y="569.64" width="25.60" height="7.19" fill="#26828E"/>
<rect x="478.50" y="569.64" width="25.60" height="7.19" fill="#26828E"/>
<rect x="504.10" y="569.64" width="25.60" height="7.19" fill="#31688E"/>
<rect x="529.70" y="569.64" width="25.60" height="7.19" fill="#31688E"/>
<rect x="555.30" y="569.64" width="25.60" height="7.19" fill="#31688E"/>
<rect x="580.90" y="569.64" width="25.60" height="7.19" fill="#31688E"/>
<rect x="120.10" y="576.83" width="25.60" height="7.19" fill="#1F9E89"/>
<rect x="145.70" y="576.83" width="25.60" height="7.19" fill="#26828E"/>
<rect x="171.30" y="576.83" width="25.60" height="7.19" fill="#26828E"/>
<rect x="196.90" y="576.83" width="25.60" height="7.19" fill="#26828E"/>
<rect x="222.50" y="576.83" width="25.60" height="7.19" fill="#1F9E89"/>
<rect x="248.10" y="576.83" width="25.60" height="7.19" fill="#1F9E89"/>
<rect x="273.70" y="576.83" width="25.60" height="7.19" fill="#26828E"/>
<rect x="299.30" y="576.83" width="25.60" height="7.19" fill="#26828E"/>
<rect x="324.90" y="576.83" width="25.60" height="7.19" fill="#26828E"/>
<rect x="350.50" y="576.83" width="25.60" height="7.19" fill="#26828E"/>
<rect x="376.10" y="576.83" width="25.60" height="7.19" fill="#B4DE2C"/>
<rect x="401.70" y="576.83" width="25.60" height="7.19" fill="#26828E"/>
<rect x="427.30" y="576.83" width="25.60" height="7.19" fill="#26828E"/>
<rect x="452.90" y="576.83" width="25.60" height="7.19" fill="#26828E"/>
<rect x="478.50" y="576.83" width="25.60" height="7.19" fill="#31688E"/>
<rect x="504.10" y="576.83" width="25.60" height="7.19" fill="#31688E"/>
<rect x="529.70" y="576.83" width="25.60" height="7.19" fill="#31688E"/>
<rect x="555.30" y="576.83" width="25.60" height="7.19" fill="#31688E"/>
<rect x="580.90" y="576.83" width="25.60" height="7.19" fill="#31688E"/>
<rect x="120.10" y="584.02" width="25.60" height="7.19" fill="#26828E"/>
<rect x="145.70" y="584.02" width="25.60" height="7.19" fill="#31688E"/>
<rect x="171.30" y="584.02" width="25.60" height="7.19" fill="#31688E"/>
<rect x="196.90" y="584.02" width="25.60" height="7.19" fill="#26828E"/>
<rect x="222.50" y="584.02" width="25.60" height="7.19" fill="#1F9E89"/>
<rect x="248.10" y="584.02" width="25.60" height="7.19" fill="#1F9E89"/>
<rect x="273.70" y="584.02" width="25.60" height="7.19" fill="#3E4A89"/>
<rect x="299.30" y="584.02" width="25.60" height="7.19" fill="#31688E"/>
<rect x="324.90" y="584.02" width="25.60" height="7.19" fill="#3E4A89"/>
<rect x="350.50" y="584.02" width="25.60" height="7.19" fill="#3E4A89"/>
<rect x="376.10" y="584.02" width="25.60" height="7.19" fill="#1F9E89"/>
<rect x="401.70" y="584.02" width="25.60" height="7.19" fill="#26828E"/>
<rect x="427.30" y="584.02" width="25.60" height="7.19" fill="#26828E"/>
<rect x="452.90" y="584.02" width="25.60" height="7.19" fill="#31688E"/>
<rect x="478.50" y="584.02" width="25.60" height="7.19" fill="#31688E"/>
<rect x="504.10" y="584.02" width="25.60" height="7.19" fill="#31688E"/>
<rect x="529.70" y="584.02" width="25.60" height="7.19" fill="#31688E"/>
<rect x="555.30" y="584.02" width="25.60" height="7.19" fill="#31688E"/>
<rect x="580.90" y="584.02" width="25.60" height="7.19" fill="#26828E"/>
<rect x="120.10" y="591.21" width="25.60" height="7.19" fill="#31688E"/>
<rect x="145.70" y="591.21" width="25.60" height="7.19" fill="#26828E"/>
<rect x="171.30" y="591.21" width="25.60" height="7.19" fill="#26828E"/>
<rect x="196.90" y="591.21" width="25.60" height="7.19" fill="#26828E"/>
<rect x="222.50" y="591.21" width="25.60" height="7.19" fill="#1F9E89"/>
<rect x="248.10" y="591.21" width="25.60" height="7.19" fill="#31688E"/>
<rect x="273.70" y="591.21" width="25.60" height="7.19" fill="#26828E"/>
<rect x="299.30" y="591.21" width="25.60" height="7.19" fill="#35B779"/>
<rect x="324.90" y="591.21" width="25.60" height="7.19" fill="#26828E"/>
<rect x="350.50" y="591.21" width="25.60" height="7.19" fill="#26828E"/>
<rect x="376.10" y="591.21" width="25.60" height="7.19" fill="#1F9E89"/>
<rect x="401.70" y="591.21" width="25.60" height="7.19" fill="#26828E"/>
<rect x="427.30" y="591.21" width="25.60" height="7.19" fill="#26828E"/>
<rect x="452.90" y="591.21" width="25.60" height="7.19" fill="#31688E"/>
<rect x="478.50" y="591.21" width="25.60" height="7.19" fill="#26828E"/>
<rect x="504.10" y="591.21" width="25.60" height="7.19" fill="#26828E"/>
<rect x="529.70" y="591.21" width="25.60" height="7.19" fill="#26828E"/>
<rect x="555.30" y="591.21" width="25.60" height="7.19" fill="#26828E"/>
<rect x="580.90" y="591.21" width="25.60" height="7.19" fill="#26828E"/>
<rect x="120.10" y="598.40" width="25.60" height="7.19" fill="#26828E"/>
<rect x="145.70" y="598.40" width="25.60" height="7.19" fill="#26828E"/>
<rect x="171.30" y="598.40" width="25.60" height="7.19" fill="#26828E"/>
<rect x="196.90" y="598.40" width="25.60" height="7.19" fill="#26828E"/>
<rect x="222.50" y="598.40" width="25.60" height="7.19" fill="#1F9E89"/>
<rect x="248.10" y="598.40" width="25.60" height="7.19" fill="#26828E"/>
<rect x="273.70" y="598.40" width="25.60" height="7.19" fill="#31688E"/>
<rect x="299.30" y="598.40" width="25.60" height="7.19" fill="#26828E"/>
<rect x="324.90" y="598.40" width="25.60" height="7.19" fill="#31688E"/>
<rect x="350.50" y="598.40" width="25.60" height="7.19" fill="#26828E"/>
<rect x="376.10" y="598.40" width="25.60" height="7.19" fill="#26828E"/>
<rect x="401.70" y="598.40" width="25.60" height="7.19" fill="#26828E"/>
<rect x="427.30" y="598.40" width="25.60" height="7.19" fill="#26828E"/>
<rect x="452.90" y="598.40" width="25.60" height="7.19" fill="#31688E"/>
<rect x="478.50" y="598.40" width="25.60" height="7.19" fill="#26828E"/>
<rect x="504.10" y="598.40" width="25.60" height="7.19" fill="#31688E"/>
<rect x="529.70" y="598.40" width="25.60" height="7.19" fill="#26828E"/>
<rect x="555.30" y="598.40" width="25.60" height="7.19" fill="#26828E"/>
<rect x="580.90" y="598.40" width="25.60" height="7.19" fill="#26828E"/>
<rect x="120.10" y="605.59" width="25.60" height="7.19" fill="#31688E"/>
<rect x="145.70" y="605.59" width="25.60" height="7.19" fill="#26828E"/>
<rect x="171.30" y="605.59" width="25.60" height="7.19" fill="#26828E"/>
<rect x="196.90" y="605.59" width="25.60" height="7.19" fill="#26828E"/>
<rect x="222.50" y="605.59" width="25.60" height="7.19" fill="#1F9E89"/>
<rect x="248.10" y="605.59" width="25.60" height="7.19" fill="#26828E"/>
<rect x="273.70" y="605.59" width="25.60" height="7.19" fill="#31688E"/>
<rect x="299.30" y="605.59" width="25.60" height="7.19" fill="#1F9E89"/>
<rect x="324.90" y="605.59" width="25.60" height="7.19" fill="#31688E"/>
<rect x="350.50" y="605.59" width="25.60" height="7.19" fill="#31688E"/>
<rect x="376.10" y="605.59" width="25.60" height="7.19" fill="#1F9E89"/>
<rect x="401.70" y="605.59" width="25.60" height="7.19" fill="#26828E"/>
<rect x="427.30" y="605.59" width="25.60" height="7.19" fill="#26828E"/>
<rect x="452.90" y="605.59" width="25.60" height="7.19" fill="#31688E"/>
<rect x="478.50" y="605.59" width="25.60" height="7.19" fill="#26828E"/>
<rect x="504.10" y="605.59" width="25.60" height="7.19" fill="#31688E"/>
<rect x="529.70" y="605.59" width="25.60" height="7.19" fill="#31688E"/>
<rect x="555.30" y="605.59" width="25.60" height="7.19" fill="#31688E"/>
<rect x="580.90" y="605.59" width="25.60" height="7.19" fill="#26828E"/>
<rect x="120.10" y="612.78" width="25.60" height="7.19" fill="#31688E"/>
<rect x="145.70" y="612.78" width="25.60" height="7.19" fill="#26828E"/>
<rect x="171.30" y="612.78" width="25.60" height="7.19" fill="#31688E"/>
<rect x="196.90" y="612.78" width="25.60" height="7.19" fill="#26828E"/>
<rect x="222.50" y="612.78" width="25.60" height="7.19" fill="#1F9E89"/>
<rect x="248.10" y="612.78" width="25.60" height="7.19" fill="#26828E"/>
<rect x="273.70" y="612.78" width="25.60" height="7.19" fill="#31688E"/>
<rect x="299.30" y="612.78" width="25.60" height="7.19" fill="#26828E"/>
<rect x="324.90" y="612.78" width="25.60" height="7.19" fill="#31688E"/>
<rect x="350.50" y="612.78" width="25.60" height="7.19" fill="#26828E"/>
<rect x="376.10" y="612.78" width="25.60" height="7.19" fill="#1F9E89"/>
<rect x="401.70" y="612.78" width="25.60" height="7.19" fill="#26828E"/>
<rect x="427.30" y="612.78" width="25.60" height="7.19" fill="#26828E"/>
<rect x="452.90" y="612.78" width="25.60" height="7.19" fill="#26828E"/>
<rect x="478.50" y="612.78" width="25.60" height="7.19" fill="#26828E"/>
<rect x="504.10" y="612.78" width="25.60" height="7.19" fill="#26828E"/>
<rect x="529.70" y="612.78" width="25.60" height="7.19" fill="#26828E"/>
<rect x="555.30" y="612.78" width="25.60" height="7.19" fill="#31688E"/>
<rect x="580.90" y="612.78" width="25.60" height="7.19" fill="#31688E"/>
<rect x="120.10" y="619.97" width="25.60" height="7.19" fill="#1F9E89"/>
<rect x="145.70" y="619.97" width="25.60" height="7.19" fill="#26828E"/>
<rect x="171.30" y="619.97" width="25.60" height="7.19" fill="#26828E"/>
<rect x="196.90" y="619.97" width="25.60" height="7.19" fill="#26828E"/>
<rect x="222.50" y="619.97" width="25.60" height="7.19" fill="#26828E"/>
<rect x="248.10" y="619.97" width="25.60" height="7.19" fill="#26828E"/>
<rect x="273.70" y="619.97" width="25.60" height="7.19" fill="#26828E"/>
<rect x="299.30" y="619.97" width="25.60" height="7.19" fill="#35B779"/>
<rect x="324.90" y="619.97" width="25.60" height="7.19" fill="#26828E"/>
<rect x="350.50" y="619.97" width="25.60" height="7.19" fill="#1F9E89"/>
<rect x="376.10" y="619.97" width="25.60" height="7.19" fill="#26828E"/>
<rect x="401.70" y="619.97" width="25.60" height="7.19" fill="#26828E"/>
<rect x="427.30" y="619.97" width="25.60" height="7.19" fill="#26828E"/>
<rect x="452.90" y="619.97" width="25.60" height="7.19" fill="#26828E"/>
<rect x="478.50" y="619.97" width="25.60" height="7.19" fill="#26828E"/>
<rect x="504.10" y="619.97" width="25.60" height="7.19" fill="#31688E"/>
<rect x="529.70" y="619.97" width="25.60" height="7.19" fill="#31688E"/>
<rect x="555.30" y="619.97" width="25.60" height="7.19" fill="#31688E"/>
<rect x="580.90" y="619.97" width="25.60" height="7.19" fill="#26828E"/>
<rect x="120.10" y="627.16" width="25.60" height="7.19" fill="#35B779"/>
<rect x="145.70" y="627.16" width="25.60" height="7.19" fill="#1F9E89"/>
<rect x="171.30" y="627.16" width="25.60" height="7.19" fill="#1F9E89"/>
<rect x="196.90" y="627.16" width="25.60" height="7.19" fill="#1F9E89"/>
<rect x="222.50" y="627.16" width="25.60" height="7.19" fill="#26828E"/>
<rect x="248.10" y="627.16" width="25.60" height="7.19" fill="#26828E"/>
<rect x="273.70" y="627.16" width="25.60" height="7.19" fill="#26828E"/>
<rect x="299.30" y="627.16" width="25.60" height="7.19" fill="#1F9E89"/>
<rect x="324.90" y="627.16" width="25.60" height="7.19" fill="#26828E"/>
<rect x="350.50" y="627.16" width="25.60" height="7.19" fill="#1F9E89"/>
<rect x="376.10" y="627.16" width="25.60" height="7.19" fill="#26828E"/>
<rect x="401.70" y="627.16" width="25.60" height="7.19" fill="#26828E"/>
<rect x="427.30" y="627.16" width="25.60" height="7.19" fill="#26828E"/>
<rect x="452.90" y="627.16" width="25.60" height="7.19" fill="#26828E"/>
<rect x="478.50" y="627.16" width="25.60" height="7.19" fill="#26828E"/>
<rect x="504.10" y="627.16" width="25.60" height="7.19" fill="#26828E"/>
<rect x="529.70" y="627.16" width="25.60" height="7.19" fill="#31688E"/>
<rect x="555.30" y="627.16" width="25.60" height="7.19" fill="#31688E"/>
<rect x="580.90" y="627.16" width="25.60" height="7.19" fill="#26828E"/>
<rect x="120.10" y="634.35" width="25.60" height="7.19" fill="#26828E"/>
<rect x="145.70" y="634.35" width="25.60" height="7.19" fill="#26828E"/>
<rect x="171.30" y="634.35" width="25.60" height="7.19" fill="#26828E"/>
<rect x="196.90" y="634.35" width="25.60" height="7.19" fill="#26828E"/>
<rect x="222.50" y="634.35" width="25.60" height="7.19" fill="#26828E"/>
<rect x="248.10" y="634.35" width="25.60" height="7.19" fill="#31688E"/>
<rect x="273.70" y="634.35" width="25.60" height="7.19" fill="#26828E"/>
<rect x="299.30" y="634.35" width="25.60" height="7.19" fill="#1F9E89"/>
<rect x="324.90" y="634.35" width="25.60" height="7.19" fill="#26828E"/>
<rect x="350.50" y="634.35" width="25.60" height="7.19" fill="#1F9E89"/>
<rect x="376.10" y="634.35" width="25.60" height="7.19" fill="#31688E"/>
<rect x="401.70" y="634.35" width="25.60" height="7.19" fill="#26828E"/>
<rect x="427.30" y="634.35" width="25.60" height="7.19" fill="#26828E"/>
<rect x="452.90" y="634.35" width="25.60" height="7.19" fill="#26828E"/>
<rect x="478.50" y="634.35" width="25.60" height="7.19" fill="#26828E"/>
<rect x="504.10" y="634.35" width="25.60" height="7.19" fill="#26828E"/>
<rect x="529.70" y="634.35" width="25.60" height="7.19" fill="#26828E"/>
<rect x="555.30" y="634.35" width="25.60" height="7.19" fill="#31688E"/>
<rect x="580.90" y="634.35" width="25.60" height="7.19" fill="#26828E"/>
<rect x="120.10" y="641.54" width="25.60" height="7.19" fill="#1F9E89"/>
<rect x="145.70" y="641.54" width="25.60" height="7.19" fill="#26828E"/>
<rect x="171.30" y="641.54" width="25.60" height="7.19" fill="#26828E"/>
<rect x="196.90" y="641.54" width="25.60" height="7.19" fill="#26828E"/>
<rect x="222.50" y="641.54" width="25.60" height="7.19" fill="#26828E"/>
<rect x="248.10" y="641.54" width="25.60" height="7.19" fill="#26828E"/>
<rect x="273.70" y="641.54" width="25.60" height="7.19" fill="#26828E"/>
<rect x="299.30" y="641.54" width="25.60" height="7.19" fill="#1F9E89"/>
<rect x="324.90" y="641.54" width="25.60" height="7.19" fill="#26828E"/>
<rect x="350.50" y="641.54" width="25.60" height="7.19" fill="#26828E"/>
<rect x="376.10" y="641.54" width="25.60" height="7.19" fill="#31688E"/>
<rect x="401.70" y="641.54" width="25.60" height="7.19" fill="#26828E"/>
<rect x="427.30" y="641.54" width="25.60" height="7.19" fill="#26828E"/>
<rect x="452.90" y="641.54" width="25.60" height="7.19" fill="#26828E"/>
<rect x="478.50" y="641.54" width="25.60" height="7.19" fill="#26828E"/>
<rect x="504.10" y="641.54" width="25.60" height="7.19" fill="#26828E"/>
<rect x="529.70" y="641.54" width="25.60" height="7.19" fill="#26828E"/>
<rect x="555.30" y="641.54" width="25.60" height="7.19" fill="#26828E"/>
<rect x="580.90" y="641.54" width="25.60" height="7.19" fill="#26828E"/>
<rect x="120.10" y="648.73" width="25.60" height="7.19" fill="#35B779"/>
<rect x="145.70" y="648.73" width="25.60" height="7.19" fill="#26828E"/>
<rect x="171.30" y="648.73" width="25.60" height="7.19" fill="#26828E"/>
<rect x="196.90" y="648.73" width="25.60" height="7.19" fill="#26828E"/>
<rect x="222.50" y="648.73" width="25.60" height="7.19" fill="#26828E"/>
<rect x="248.10" y="648.73" width="25.60" height="7.19" fill="#1F9E89"/>
<rect x="273.70" y="648.73" width="25.60" height="7.19" fill="#26828E"/>
<rect x="299.30" y="648.73" width="25.60" height="7.19" fill="#26828E"/>
<rect x="324.90" y="648.73" width="25.60" height="7.19" fill="#26828E"/>
<rect x="350.50" y="648.73" width="25.60" height="7.19" fill="#31688E"/>
<rect x="376.10" y="648.73" width="25.60" height="7.19" fill="#26828E"/>
<rect x="401.70" y="648.73" width="25.60" height="7.19" fill="#26828E"/>
<rect x="427.30" y="648.73" width="25.60" height="7.19" fill="#26828E"/>
<rect x="452.90" y="648.73" width="25.60" height="7.19" fill="#26828E"/>
<rect x="478.50" y="648.73" width="25.60" height="7.19" fill="#26828E"/>
<rect x="504.10" y="648.73" width="25.60" height="7.19" fill="#26828E"/>
<rect x="529.70" y="648.73" width="25.60" height="7.19" fill="#26828E"/>
<rect x="555.30" y="648.73" width="25.60" height="7.19" fill="#26828E"/>
<rect x="580.90" y="648.73" width="25.60" height="7.19" fill="#26828E"/>
<rect x="120.10" y="655.92" width="25.60" height="7.19" fill="#1F9E89"/>
<rect x="145.70" y="655.92" width="25.60" height="7.19" fill="#26828E"/>
<rect x="171.30" y="655.92" width="25.60" height="7.19" fill="#26828E"/>
<rect x="196.90" y="655.92" width="25.60" height="7.19" fill="#26828E"/>
<rect x="222.50" y="655.92" width="25.60" height="7.19" fill="#26828E"/>
<rect x="248.10" y="655.92" width="25.60" height="7.19" fill="#26828E"/>
<rect x="273.70" y="655.92" width="25.60" height="7.19" fill="#1F9E89"/>
<rect x="299.30" y="655.92" width="25.60" height="7.19" fill="#26828E"/>
<rect x="324.90" y="655.92" width="25.60" height="7.19" fill="#26828E"/>
<rect x="350.50" y="655.92" width="25.60" height="7.19" fill="#26828E"/>
<rect x="376.10" y="655.92" width="25.60" height="7.19" fill="#1F9E89"/>
<rect x="401.70" y="655.92" width="25.60" height="7.19" fill="#26828E"/>
<rect x="427.30" y="655.92" width="25.60" height="7.19" fill="#26828E"/>
<rect x="452.90" y="655.92" width="25.60" height="7.19" fill="#26828E"/>
<rect x="478.50" y="655.92" width="25.60" height="7.19" fill="#26828E"/>
<rect x="504.10" y="655.92" width="25.60" height="7.19" fill="#1F9E89"/>
<rect x="529.70" y="655.92" width="25.60" height="7.19" fill="#26828E"/>
<rect x="555.30" y="655.92" width="25.60" height="7.19" fill="#26828E"/>
<rect x="580.90" y="655.92" width="25.60" height="7.19" fill="#1F9E89"/>
<rect x="120.10" y="663.11" width="25.60" height="7.19" fill="#1F9E89"/>
<rect x="145.70" y="663.11" width="25.60" height="7.19" fill="#26828E"/>
<rect x="171.30" y="663.11" width="25.60" height="7.19" fill="#26828E"/>
<rect x="196.90" y="663.11" width="25.60" height="7.19" fill="#26828E"/>
<rect x="222.50" y="663.11" width="25.60" height="7.19" fill="#1F9E89"/>
<rect x="248.10" y="663.11" width="25.60" height="7.19" fill="#1F9E89"/>
<rect x="273.70" y="663.11" width="25.60" height="7.19" fill="#26828E"/>
<rect x="299.30" y="663.11" width="25.60" height="7.19" fill="#26828E"/>
<rect x="324.90" y="663.11" width="25.60" height="7.19" fill="#1F9E89"/>
<rect x="350.50" y="663.11" width="25.60" height="7.19" fill="#26828E"/>
<rect x="376.10" y="663.11" width="25.60" height="7.19" fill="#26828E"/>
<rect x="401.70" y="663.11" width="25.60" height="7.19" fill="#26828E"/>
<rect x="427.30" y="663.11" width="25.60" height="7.19" fill="#26828E"/>
<rect x="452.90" y="663.11" width="25.60" height="7.19" fill="#26828E"/>
<rect x="478.50" y="663.11" width="25.60" height="7.19" fill="#26828E"/>
<rect x="504.10" y="663.11" width="25.60" height="7.19" fill="#26828E"/>
<rect x="529.70" y="663.11" width="25.60" height="7.19" fill="#26828E"/>
<rect x="555.30" y="663.11" width="25.60" height="7.19" fill="#31688E"/>
<rect x="580.90" y="663.11" width="25.60" height="7.19" fill="#31688E"/>
<rect x="120.10" y="670.30" width="25.60" height="7.19" fill="#26828E"/>
<rect x="145.70" y="670.30" width="25.60" height="7.19" fill="#26828E"/>
<rect x="171.30" y="670.30" width="25.60" height="7.19" fill="#26828E"/>
<rect x="196.90" y="670.30" width="25.60" height="7.19" fill="#1F9E89"/>
<rect x="222.50" y="670.30" width="25.60" height="7.19" fill="#26828E"/>
<rect x="248.10" y="670.30" width="25.60" height="7.19" fill="#26828E"/>
<rect x="273.70" y="670.30" width="25.60" height="7.19" fill="#26828E"/>
<rect x="299.30" y="670.30" width="25.60" height="7.19" fill="#26828E"/>
<rect x="324.90" y="670.30" width="25.60" height="7.19" fill="#26828E"/>
<rect x="350.50" y="670.30" width="25.60" height="7.19" fill="#26828E"/>
<rect x="376.10" y="670.30" width="25.60" height="7.19" fill="#26828E"/>
<rect x="401.70" y="670.30" width="25.60" height="7.19" fill="#1F9E89"/>
<rect x="427.30" y="670.30" width="25.60" height="7.19" fill="#1F9E89"/>
<rect x="452.90" y="670.30" width="25.60" height="7.19" fill="#26828E"/>
<rect x="478.50" y="670.30" width="25.60" height="7.19" fill="#1F9E89"/>
<rect x="504.10" y="670.30" width="25.60" height="7.19" fill="#1F9E89"/>
<rect x="529.70" y="670.30" width="25.60" height="7.19" fill="#26828E"/>
<rect x="555.30" y="670.30" width="25.60" height="7.19" fill="#31688E"/>
<rect x="580.90" y="670.30" width="25.60" height="7.19" fill="#31688E"/>
<rect x="120.10" y="677.49" width="25.60" height="7.19" fill="#26828E"/>
<rect x="145.70" y="677.49" width="25.60" height="7.19" fill="#35B779"/>
<rect x="171.30" y="677.49" width="25.60" height="7.19" fill="#1F9E89"/>
<rect x="196.90" y="677.49" width="25.60" height="7.19" fill="#1F9E89"/>
<rect x="222.50" y="677.49" width="25.60" height="7.19" fill="#26828E"/>
<rect x="248.10" y="677.49" width="25.60" height="7.19" fill="#26828E"/>
<rect x="273.70" y="677.49" width="25.60" height="7.19" fill="#26828E"/>
<rect x="299.30" y="677.49" width="25.60" height="7.19" fill="#1F9E89"/>
<rect x="324.90" y="677.49" width="25.60" height="7.19" fill="#31688E"/>
<rect x="350.50" y="677.49" width="25.60" height="7.19" fill="#26828E"/>
<rect x="376.10" y="677.49" width="25.60" height="7.19" fill="#26828E"/>
<rect x="401.70" y="677.49" width="25.60" height="7.19" fill="#1F9E89"/>
<rect x="427.30" y="677.49" width="25.60" height="7.19" fill="#26828E"/>
<rect x="452.90" y="677.49" width="25.60" height="7.19" fill="#26828E"/>
<rect x="478.50" y="677.49" width="25.60" height="7.19" fill="#31688E"/>
<rect x="504.10" y="677.49" width="25.60" height="7.19" fill="#1F9E89"/>
<rect x="529.70" y="677.49" width="25.60" height="7.19" fill="#26828E"/>
<rect x="555.30" y="677.49" width="25.60" height="7.19" fill="#31688E"/>
<rect x="580.90" y="677.49" width="25.60" height="7.19" fill="#26828E"/>
<rect x="120.10" y="684.68" width="25.60" height="7.19" fill="#35B779"/>
<rect x="145.70" y="684.68" width="25.60" height="7.19" fill="#31688E"/>
<rect x="171.30" y="684.68" width="25.60" height="7.19" fill="#26828E"/>
<rect x="196.90" y="684.68" width="25.60" height="7.19" fill="#26828E"/>
<rect x="222.50" y="684.68" width="25.60" height="7.19" fill="#B4DE2C"/>
<rect x="248.10" y="684.68" width="25.60" height="7.19" fill="#B4DE2C"/>
<rect x="273.70" y="684.68" width="25.60" height="7.19" fill="#35B779"/>
<rect x="299.30" y="684.68" width="25.60" height="7.19" fill="#6DCD59"/>
<rect x="324.90" y="684.68" width="25.60" height="7.19" fill="#1F9E89"/>
<rect x="350.50" y="684.68" width="25.60" height="7.19" fill="#1F9E89"/>
<rect x="376.10" y="684.68" width="25.60" height="7.19" fill="#1F9E89"/>
<rect x="401.70" y="684.68" width="25.60" height="7.19" fill="#26828E"/>
<rect x="427.30" y="684.68" width="25.60" height="7.19" fill="#26828E"/>
<rect x="452.90" y="684.68" width="25.60" height="7.19" fill="#1F9E89"/>
<rect x="478.50" y="684.68" width="25.60" height="7.19" fill="#31688E"/>
<rect x="504.10" y="684.68" width="25.60" height="7.19" fill="#26828E"/>
<rect x="529.70" y="684.68" width="25.60" height="7.19" fill="#26828E"/>
<rect x="555.30" y="684.68" width="25.60" height="7.19" fill="#1F9E89"/>
<rect x="580.90" y="684.68" width="25.60" height="7.19" fill="#26828E"/>
<rect x="120.10" y="691.87" width="25.60" height="7.19" fill="#26828E"/>
<rect x="145.70" y="691.87" width="25.60" height="7.19" fill="#31688E"/>
<rect x="171.30" y="691.87" width="25.60" height="7.19" fill="#26828E"/>
<rect x="196.90" y="691.87" width="25.60" height="7.19" fill="#26828E"/>
<rect x="222.50" y="691.87" width="25.60" height="7.19" fill="#B4DE2C"/>
<rect x="248.10" y="691.87" width="25.60" height="7.19" fill="#B4DE2C"/>
<rect x="273.70" y="691.87" width="25.60" height="7.19" fill="#1F9E89"/>
<rect x="299.30" y="691.87" width="25.60" height="7.19" fill="#35B779"/>
<rect x="324.90" y="691.87" width="25.60" height="7.19" fill="#1F9E89"/>
<rect x="350.50" y="691.87" width="25.60" height="7.19" fill="#26828E"/>
<rect x="376.10" y="691.87" width="25.60" height="7.19" fill="#26828E"/>
<rect x="401.70" y="691.87" width="25.60" height="7.19" fill="#26828E"/>
<rect x="427.30" y="691.87" width="25.60" height="7.19" fill="#26828E"/>
<rect x="452.90" y="691.87" width="25.60" height="7.19" fill="#1F9E89"/>
<rect x="478.50" y="691.87" width="25.60" height="7.19" fill="#26828E"/>
<rect x="504.10" y="691.87" width="25.60" height="7.19" fill="#6DCD59"/>
<rect x="529.70" y="691.87" width="25.60" height="7.19" fill="#35B779"/>
<rect x="555.30" y="691.87" width="25.60" height="7.19" fill="#6DCD59"/>
<rect x="580.90" y="691.87" width="25.60" height="7.19" fill="#35B779"/>
<rect x="120.10" y="699.06" width="25.60" height="7.19" fill="#31688E"/>
<rect x="145.70" y="699.06" width="25.60" height="7.19" fill="#26828E"/>
<rect x="171.30" y="699.06" width="25.60" height="7.19" fill="#31688E"/>
<rect x="196.90" y="699.06" width="25.60" height="7.19" fill="#26828E"/>
<rect x="222.50" y="699.06" width="25.60" height="7.19" fill="#B4DE2C"/>
<rect x="248.10" y="699.06" width="25.60" height="7.19" fill="#B4DE2C"/>
<rect x="273.70" y="699.06" width="25.60" height="7.19" fill="#1F9E89"/>
<rect x="299.30" y="699.06" width="25.60" height="7.19" fill="#6DCD59"/>
<rect x="324.90" y="699.06" width="25.60" height="7.19" fill="#1F9E89"/>
<rect x="350.50" y="699.06" width="25.60" height="7.19" fill="#26828E"/>
<rect x="376.10" y="699.06" width="25.60" height="7.19" fill="#26828E"/>
<rect x="401.70" y="699.06" width="25.60" height="7.19" fill="#26828E"/>
<rect x="427.30" y="699.06" width="25.60" height="7.19" fill="#26828E"/>
<rect x="452.90" y="699.06" width="25.60" height="7.19" fill="#B4DE2C"/>
<rect x="478.50" y="699.06" width="25.60" height="7.19" fill="#26828E"/>
<rect x="504.10" y="699.06" width="25.60" height="7.19" fill="#1F9E89"/>
<rect x="529.70" y="699.06" width="25.60" height="7.19" fill="#1F9E89"/>
<rect x="555.30" y="699.06" width="25.60" height="7.19" fill="#35B779"/>
<rect x="580.90" y="699.06" width="25.60" height="7.19" fill="#35B779"/>
<rect x="120.10" y="706.25" width="25.60" height="7.19" fill="#1F9E89"/>
<rect x="145.70" y="706.25" width="25.60" height="7.19" fill="#1F9E89"/>
<rect x="171.30" y="706.25" width="25.60" height="7.19" fill="#26828E"/>
<rect x="196.90" y="706.25" width="25.60" height="7.19" fill="#26828E"/>
<rect x="222.50" y="706.25" width="25.60" height="7.19" fill="#26828E"/>
<rect x="248.10" y="706.25" width="25.60" height="7.19" fill="#26828E"/>
<rect x="273.70" y="706.25" width="25.60" height="7.19" fill="#26828E"/>
<rect x="299.30" y="706.25" width="25.60" height="7.19" fill="#6DCD59"/>
<rect x="324.90" y="706.25" width="25.60" height="7.19" fill="#1F9E89"/>
<rect x="350.50" y="706.25" width="25.60" height="7.19" fill="#26828E"/>
<rect x="376.10" y="706.25" width="25.60" height="7.19" fill="#31688E"/>
<rect x="401.70" y="706.25" width="25.60" height="7.19" fill="#1F9E89"/>
<rect x="427.30" y="706.25" width="25.60" height="7.19" fill="#1F9E89"/>
<rect x="452.90" y="706.25" width="25.60" height="7.19" fill="#1F9E89"/>
<rect x="478.50" y="706.25" width="25.60" height="7.19" fill="#35B779"/>
<rect x="504.10" y="706.25" width="25.60" height="7.19" fill="#6DCD59"/>
<rect x="529.70" y="706.25" width="25.60" height="7.19" fill="#35B779"/>
<rect x="555.30" y="706.25" width="25.60" height="7.19" fill="#35B779"/>
<rect x="580.90" y="706.25" width="25.60" height="7.19" fill="#FDE725"/>
<rect x="120.10" y="713.44" width="25.60" height="7.19" fill="#26828E"/>
<rect x="145.70" y="713.44" width="25.60" height="7.19" fill="#26828E"/>
<rect x="171.30" y="713.44" width="25.60" height="7.19" fill="#1F9E89"/>
<rect x="196.90" y="713.44" width="25.60" height="7.19" fill="#26828E"/>
<rect x="222.50" y="713.44" width="25.60" height="7.19" fill="#26828E"/>
<rect x="248.10" y="713.44" width="25.60" height="7.19" fill="#31688E"/>
<rect x="273.70" y="713.44" width="25.60" height="7.19" fill="#26828E"/>
<rect x="299.30" y="713.44" width="25.60" height="7.19" fill="#1F9E89"/>
<rect x="324.90" y="713.44" width="25.60" height="7.19" fill="#1F9E89"/>
<rect x="350.50" y="713.44" width="25.60" height="7.19" fill="#26828E"/>
<rect x="376.10" y="713.44" width="25.60" height="7.19" fill="#26828E"/>
<rect x="401.70" y="713.44" width="25.60" height="7.19" fill="#35B779"/>
<rect x="427.30" y="713.44" width="25.60" height="7.19" fill="#26828E"/>
<rect x="452.90" y="713.44" width="25.60" height="7.19" fill="#1F9E89"/>
<rect x="478.50" y="713.44" width="25.60" height="7.19" fill="#6DCD59"/>
<rect x="504.10" y="713.44" width="25.60" height="7.19" fill="#1F9E89"/>
<rect x="529.70" y="713.44" width="25.60" height="7.19" fill="#6DCD59"/>
<rect x="555.30" y="713.44" width="25.60" height="7.19" fill="#6DCD59"/>
<rect x="580.90" y="713.44" width="25.60" height="7.19" fill="#35B779"/>
<rect x="120.10" y="720.63" width="25.60" height="7.19" fill="#1F9E89"/>
<rect x="145.70" y="720.63" width="25.60" height="7.19" fill="#1F9E89"/>
<rect x="171.30" y="720.63" width="25.60" height="7.19" fill="#26828E"/>
<rect x="196.90" y="720.63" width="25.60" height="7.19" fill="#1F9E89"/>
<rect x="222.50" y="720.63" width="25.60" height="7.19" fill="#26828E"/>
<rect x="248.10" y="720.63" width="25.60" height="7.19" fill="#26828E"/>
<rect x="273.70" y="720.63" width="25.60" height="7.19" fill="#1F9E89"/>
<rect x="299.30" y="720.63" width="25.60" height="7.19" fill="#1F9E89"/>
<rect x="324.90" y="720.63" width="25.60" height="7.19" fill="#1F9E89"/>
<rect x="350.50" y="720.63" width="25.60" height="7.19" fill="#26828E"/>
<rect x="376.10" y="720.63" width="25.60" height="7.19" fill="#35B779"/>
<rect x="401.70" y="720.63" width="25.60" height="7.19" fill="#26828E"/>
<rect x="427.30" y="720.63" width="25.60" height="7.19" fill="#1F9E89"/>
<rect x="452.90" y="720.63" width="25.60" height="7.19" fill="#B4DE2C"/>
<rect x="478.50" y="720.63" width="25.60" height="7.19" fill="#1F9E89"/>
<rect x="504.10" y="720.63" width="25.60" height="7.19" fill="#1F9E89"/>
<rect x="529.70" y="720.63" width="25.60" height="7.19" fill="#35B779"/>
<rect x="555.30" y="720.63" width="25.60" height="7.19" fill="#35B779"/>
<rect x="580.90" y="720.63" width="25.60" height="7.19" fill="#6DCD59"/>
<rect x="120.10" y="727.82" width="25.60" height="7.19" fill="#31688E"/>
<rect x="145.70" y="727.82" width="25.60" height="7.19" fill="#26828E"/>
<rect x="171.30" y="727.82" width="25.60" height="7.19" fill="#26828E"/>
<rect x="196.90" y="727.82" width="25.60" height="7.19" fill="#26828E"/>
<rect x="222.50" y="727.82" width="25.60" height="7.19" fill="#26828E"/>
<rect x="248.10" y="727.82" width="25.60" height="7.19" fill="#1F9E89"/>
<rect x="273.70" y="727.82" width="25.60" height="7.19" fill="#6DCD59"/>
<rect x="299.30" y="727.82" width="25.60" height="7.19" fill="#1F9E89"/>
<rect x="324.90" y="727.82" width="25.60" height="7.19" fill="#B4DE2C"/>
<rect x="350.50" y="727.82" width="25.60" height="7.19" fill="#6DCD59"/>
<rect x="376.10" y="727.82" width="25.60" height="7.19" fill="#26828E"/>
<rect x="401.70" y="727.82" width="25.60" height="7.19" fill="#26828E"/>
<rect x="427.30" y="727.82" width="25.60" height="7.19" fill="#26828E"/>
<rect x="452.90" y="727.82" width="25.60" height="7.19" fill="#35B779"/>
<rect x="478.50" y="727.82" width="25.60" height="7.19" fill="#1F9E89"/>
<rect x="504.10" y="727.82" width="25.60" height="7.19" fill="#1F9E89"/>
<rect x="529.70" y="727.82" width="25.60" height="7.19" fill="#1F9E89"/>
<rect x="555.30" y="727.82" width="25.60" height="7.19" fill="#1F9E89"/>
<rect x="580.90" y="727.82" width="25.60" height="7.19" fill="#1F9E89"/>
<rect x="120.10" y="735.01" width="25.60" height="7.19" fill="#31688E"/>
<rect x="145.70" y="735.01" width="25.60" height="7.19" fill="#26828E"/>
<rect x="171.30" y="735.01" width="25.60" height="7.19" fill="#26828E"/>
<rect x="196.90" y="735.01" width="25.60" height="7.19" fill="#26828E"/>
<rect x="222.50" y="735.01" width="25.60" height="7.19" fill="#1F9E89"/>
<rect x="248.10" y="735.01" width="25.60" height="7.19" fill="#26828E"/>
<rect x="273.70" y="735.01" width="25.60" height="7.19" fill="#6DCD59"/>
<rect x="299.30" y="735.01" width="25.60" height="7.19" fill="#1F9E89"/>
<rect x="324.90" y="735.01" width="25.60" height="7.19" fill="#6DCD59"/>
<rect x="350.50" y="735.01" width="25.60" height="7.19" fill="#35B779"/>
<rect x="376.10" y="735.01" width="25.60" height="7.19" fill="#26828E"/>
<rect x="401.70" y="735.01" width="25.60" height="7.19" fill="#1F9E89"/>
<rect x="427.30" y="735.01" width="25.60" height="7.19" fill="#26828E"/>
<rect x="452.90" y="735.01" width="25.60" height="7.19" fill="#1F9E89"/>
<rect x="478.50" y="735.01" width="25.60" height="7.19" fill="#35B779"/>
<rect x="504.10" y="735.01" width="25.60" height="7.19" fill="#35B779"/>
<rect x="529.70" y="735.01" width="25.60" height="7.19" fill="#35B779"/>
<rect x="555.30" y="735.01" width="25.60" height="7.19" fill="#6DCD59"/>
<rect x="580.90" y="735.01" width="25.60" height="7.19" fill="#35B779"/>
<rect x="120.10" y="742.20" width="25.60" height="7.19" fill="#26828E"/>
<rect x="145.70" y="742.20" width="25.60" height="7.19" fill="#31688E"/>
<rect x="171.30" y="742.20" width="25.60" height="7.19" fill="#31688E"/>
<rect x="196.90" y="742.20" width="25.60" height="7.19" fill="#26828E"/>
<rect x="222.50" y="742.20" width="25.60" height="7.19" fill="#31688E"/>
<rect x="248.10" y="742.20" width="25.60" height="7.19" fill="#26828E"/>
<rect x="273.70" y="742.20" width="25.60" height="7.19" fill="#1F9E89"/>
<rect x="299.30" y="742.20" width="25.60" height="7.19" fill="#1F9E89"/>
<rect x="324.90" y="742.20" width="25.60" height="7.19" fill="#1F9E89"/>
<rect x="350.50" y="742.20" width="25.60" height="7.19" fill="#26828E"/>
<rect x="376.10" y="742.20" width="25.60" height="7.19" fill="#35B779"/>
<rect x="401.70" y="742.20" width="25.60" height="7.19" fill="#26828E"/>
<rect x="427.30" y="742.20" width="25.60" height="7.19" fill="#26828E"/>
<rect x="452.90" y="742.20" width="25.60" height="7.19" fill="#1F9E89"/>
<rect x="478.50" y="742.20" width="25.60" height="7.19" fill="#26828E"/>
<rect x="504.10" y="742.20" width="25.60" height="7.19" fill="#1F9E89"/>
<rect x="529.70" y="742.20" width="25.60" height="7.19" fill="#1F9E89"/>
<rect x="555.30" y="742.20" width="25.60" height="7.19" fill="#26828E"/>
<rect x="580.90" y="742.20" width="25.60" height="7.19" fill="#26828E"/>
<rect x="120.10" y="749.39" width="25.60" height="7.19" fill="#31688E"/>
<rect x="145.70" y="749.39" width="25.60" height="7.19" fill="#26828E"/>
<rect x="171.30" y="749.39" width="25.60" height="7.19" fill="#31688E"/>
<rect x="196.90" y="749.39" width="25.60" height="7.19" fill="#26828E"/>
<rect x="222.50" y="749.39" width="25.60" height="7.19" fill="#26828E"/>
<rect x="248.10" y="749.39" width="25.60" height="7.19" fill="#1F9E89"/>
<rect x="273.70" y="749.39" width="25.60" height="7.19" fill="#26828E"/>
<rect x="299.30" y="749.39" width="25.60" height="7.19" fill="#1F9E89"/>
<rect x="324.90" y="749.39" width="25.60" height="7.19" fill="#26828E"/>
<rect x="350.50" y="749.39" width="25.60" height="7.19" fill="#26828E"/>
<rect x="376.10" y="749.39" width="25.60" height="7.19" fill="#1F9E89"/>
<rect x="401.70" y="749.39" width="25.60" height="7.19" fill="#26828E"/>
<rect x="427.30" y="749.39" width="25.60" height="7.19" fill="#26828E"/>
<rect x="452.90" y="749.39" width="25.60" height="7.19" fill="#1F9E89"/>
<rect x="478.50" y="749.39" width="25.60" height="7.19" fill="#26828E"/>
<rect x="504.10" y="749.39" width="25.60" height="7.19" fill="#35B779"/>
<rect x="529.70" y="749.39" width="25.60" height="7.19" fill="#B4DE2C"/>
<rect x="555.30" y="749.39" width="25.60" height="7.19" fill="#1F9E89"/>
<rect x="580.90" y="749.39" width="25.60" height="7.19" fill="#1F9E89"/>
<rect x="120.10" y="756.58" width="25.60" height="7.19" fill="#31688E"/>
<rect x="145.70" y="756.58" width="25.60" height="7.19" fill="#26828E"/>
<rect x="171.30" y="756.58" width="25.60" height="7.19" fill="#26828E"/>
<rect x="196.90" y="756.58" width="25.60" height="7.19" fill="#1F9E89"/>
<rect x="222.50" y="756.58" width="25.60" height="7.19" fill="#1F9E89"/>
<rect x="248.10" y="756.58" width="25.60" height="7.19" fill="#26828E"/>
<rect x="273.70" y="756.58" width="25.60" height="7.19" fill="#26828E"/>
<rect x="299.30" y="756.58" width="25.60" height="7.19" fill="#26828E"/>
<rect x="324.90" y="756.58" width="25.60" height="7.19" fill="#26828E"/>
<rect x="350.50" y="756.58" width="25.60" height="7.19" fill="#31688E"/>
<rect x="376.10" y="756.58" width="25.60" height="7.19" fill="#1F9E89"/>
<rect x="401.70" y="756.58" width="25.60" height="7.19" fill="#26828E"/>
<rect x="427.30" y="756.58" width="25.60" height="7.19" fill="#26828E"/>
<rect x="452.90" y="756.58" width="25.60" height="7.19" fill="#26828E"/>
<rect x="478.50" y="756.58" width="25.60" height="7.19" fill="#1F9E89"/>
<rect x="504.10" y="756.58" width="25.60" height="7.19" fill="#1F9E89"/>
<rect x="529.70" y="756.58" width="25.60" height="7.19" fill="#35B779"/>
<rect x="555.30" y="756.58" width="25.60" height="7.19" fill="#35B779"/>
<rect x="580.90" y="756.58" width="25.60" height="7.19" fill="#1F9E89"/>
<rect x="120.10" y="763.77" width="25.60" height="7.19" fill="#31688E"/>
<rect x="145.70" y="763.77" width="25.60" height="7.19" fill="#1F9E89"/>
<rect x="171.30" y="763.77" width="25.60" height="7.19" fill="#26828E"/>
<rect x="196.90" y="763.77" width="25.60" height="7.19" fill="#1F9E89"/>
<rect x="222.50" y="763.77" width="25.60" height="7.19" fill="#1F9E89"/>
<rect x="248.10" y="763.77" width="25.60" height="7.19" fill="#26828E"/>
<rect x="273.70" y="763.77" width="25.60" height="7.19" fill="#1F9E89"/>
<rect x="299.30" y="763.77" width="25.60" height="7.19" fill="#26828E"/>
<rect x="324.90" y="763.77" width="25.60" height="7.19" fill="#26828E"/>
<rect x="350.50" y="763.77" width="25.60" height="7.19" fill="#26828E"/>
<rect x="376.10" y="763.77" width="25.60" height="7.19" fill="#26828E"/>
<rect x="401.70" y="763.77" width="25.60" height="7.19" fill="#26828E"/>
<rect x="427.30" y="763.77" width="25.60" height="7.19" fill="#1F9E89"/>
<rect x="452.90" y="763.77" width="25.60" height="7.19" fill="#26828E"/>
<rect x="478.50" y="763.77" width="25.60" height="7.19" fill="#26828E"/>
<rect x="504.10" y="763.77" width="25.60" height="7.19" fill="#1F9E89"/>
<rect x="529.70" y="763.77" width="25.60" height="7.19" fill="#1F9E89"/>
<rect x="555.30" y="763.77" width="25.60" height="7.19" fill="#1F9E89"/>
<rect x="580.90" y="763.77" width="25.60" height="7.19" fill="#26828E"/>
<rect x="120.10" y="770.96" width="25.60" height="7.19" fill="#1F9E89"/>
<rect x="145.70" y="770.96" width="25.60" height="7.19" fill="#26828E"/>
<rect x="171.30" y="770.96" width="25.60" height="7.19" fill="#26828E"/>
<rect x="196.90" y="770.96" width="25.60" height="7.19" fill="#26828E"/>
<rect x="222.50" y="770.96" width="25.60" height="7.19" fill="#26828E"/>
<rect x="248.10" y="770.96" width="25.60" height="7.19" fill="#1F9E89"/>
<rect x="273.70" y="770.96" width="25.60" height="7.19" fill="#1F9E89"/>
<rect x="299.30" y="770.96" width="25.60" height="7.19" fill="#31688E"/>
<rect x="324.90" y="770.96" width="25.60" height="7.19" fill="#1F9E89"/>
<rect x="350.50" y="770.96" width="25.60" height="7.19" fill="#1F9E89"/>
<rect x="376.10" y="770.96" width="25.60" height="7.19" fill="#26828E"/>
<rect x="401.70" y="770.96" width="25.60" height="7.19" fill="#1F9E89"/>
<rect x="427.30" y="770.96" width="25.60" height="7.19" fill="#26828E"/>
<rect x="452.90" y="770.96" width="25.60" height="7.19" fill="#1F9E89"/>
<rect x="478.50" y="770.96" width="25.60" height="7.19" fill="#6DCD59"/>
<rect x="504.10" y="770.96" width="25.60" height="7.19" fill="#26828E"/>
<rect x="529.70" y="770.96" width="25.60" height="7.19" fill="#31688E"/>
<rect x="555.30" y="770.96" width="25.60" height="7.19" fill="#26828E"/>
<rect x="580.90" y="770.96" width="25.60" height="7.19" fill="#26828E"/>
<rect x="120.10" y="778.15" width="25.60" height="7.19" fill="#1F9E89"/>
<rect x="145.70" y="778.15" width="25.60" height="7.19" fill="#1F9E89"/>
<rect x="171.30" y="778.15" width="25.60" height="7.19" fill="#35B779"/>
<rect x="196.90" y="778.15" width="25.60" height="7.19" fill="#26828E"/>
<rect x="222.50" y="778.15" width="25.60" height="7.19" fill="#26828E"/>
<rect x="248.10" y="778.15" width="25.60" height="7.19" fill="#26828E"/>
<rect x="273.70" y="778.15" width="25.60" height="7.19" fill="#1F9E89"/>
<rect x="299.30" y="778.15" width="25.60" height="7.19" fill="#26828E"/>
<rect x="324.90" y="778.15" width="25.60" height="7.19" fill="#1F9E89"/>
<rect x="350.50" y="778.15" width="25.60" height="7.19" fill="#26828E"/>
<rect x="376.10" y="778.15" width="25.60" height="7.19" fill="#26828E"/>
<rect x="401.70" y="778.15" width="25.60" height="7.19" fill="#6DCD59"/>
<rect x="427.30" y="778.15" width="25.60" height="7.19" fill="#1F9E89"/>
<rect x="452.90" y="778.15" width="25.60" height="7.19" fill="#26828E"/>
<rect x="478.50" y="778.15" width="25.60" height="7.19" fill="#35B779"/>
<rect x="504.10" y="778.15" width="25.60" height="7.19" fill="#26828E"/>
<rect x="529.70" y="778.15" width="25.60" height="7.19" fill="#26828E"/>
<rect x="555.30" y="778.15" width="25.60" height="7.19" fill="#26828E"/>
<rect x="580.90" y="778.15" width="25.60" height="7.19" fill="#1F9E89"/>
<rect x="120.10" y="785.34" width="25.60" height="7.19" fill="#35B779"/>
<rect x="145.70" y="785.34" width="25.60" height="7.19" fill="#1F9E89"/>
<rect x="171.30" y="785.34" width="25.60" height="7.19" fill="#1F9E89"/>
<rect x="196.90" y="785.34" width="25.60" height="7.19" fill="#1F9E89"/>
<rect x="222.50" y="785.34" width="25.60" height="7.19" fill="#26828E"/>
<rect x="248.10" y="785.34" width="25.60" height="7.19" fill="#1F9E89"/>
<rect x="273.70" y="785.34" width="25.60" height="7.19" fill="#1F9E89"/>
<rect x="299.30" y="785.34" width="25.60" height="7.19" fill="#26828E"/>
<rect x="324.90" y="785.34" width="25.60" height="7.19" fill="#35B779"/>
<rect x="350.50" y="785.34" width="25.60" height="7.19" fill="#6DCD59"/>
<rect x="376.10" y="785.34" width="25.60" height="7.19" fill="#1F9E89"/>
<rect x="401.70" y="785.34" width="25.60" height="7.19" fill="#1F9E89"/>
<rect x="427.30" y="785.34" width="25.60" height="7.19" fill="#35B779"/>
<rect x="452.90" y="785.34" width="25.60" height="7.19" fill="#35B779"/>
<rect x="478.50" y="785.34" width="25.60" height="7.19" fill="#1F9E89"/>
<rect x="504.10" y="785.34" width="25.60" height="7.19" fill="#35B779"/>
<rect x="529.70" y="785.34" width="25.60" height="7.19" fill="#35B779"/>
<rect x="555.30" y="785.34" width="25.60" height="7.19" fill="#1F9E89"/>
<rect x="580.90" y="785.34" width="25.60" height="7.19" fill="#1F9E89"/>
<rect x="120.10" y="792.53" width="25.60" height="7.19" fill="#35B779"/>
<rect x="145.70" y="792.53" width="25.60" height="7.19" fill="#1F9E89"/>
<rect x="171.30" y="792.53" width="25.60" height="7.19" fill="#26828E"/>
<rect x="196.90" y="792.53" width="25.60" height="7.19" fill="#26828E"/>
<rect x="222.50" y="792.53" width="25.60" height="7.19" fill="#26828E"/>
<rect x="248.10" y="792.53" width="25.60" height="7.19" fill="#26828E"/>
<rect x="273.70" y="792.53" width="25.60" height="7.19" fill="#1F9E89"/>
<rect x="299.30" y="792.53" width="25.60" height="7.19" fill="#26828E"/>
<rect x="324.90" y="792.53" width="25.60" height="7.19" fill="#35B779"/>
<rect x="350.50" y="792.53" width="25.60" height="7.19" fill="#1F9E89"/>
<rect x="376.10" y="792.53" width="25.60" height="7.19" fill="#26828E"/>
<rect x="401.70" y="792.53" width="25.60" height="7.19" fill="#26828E"/>
<rect x="427.30" y="792.53" width="25.60" height="7.19" fill="#26828E"/>
<rect x="452.90" y="792.53" width="25.60" height="7.19" fill="#1F9E89"/>
<rect x="478.50" y="792.53" width="25.60" height="7.19" fill="#26828E"/>
<rect x="504.10" y="792.53" width="25.60" height="7.19" fill="#35B779"/>
<rect x="529.70" y="792.53" width="25.60" height="7.19" fill="#35B779"/>
<rect x="555.30" y="792.53" width="25.60" height="7.19" fill="#1F9E89"/>
<rect x="580.90" y="792.53" width="25.60" height="7.19" fill="#1F9E89"/>
<rect x="120.10" y="799.72" width="25.60" height="7.19" fill="#35B779"/>
<rect x="145.70" y="799.72" width="25.60" height="7.19" fill="#26828E"/>
<rect x="171.30" y="799.72" width="25.60" height="7.19" fill="#1F9E89"/>
<rect x="196.90" y="799.72" width="25.60" height="7.19" fill="#26828E"/>
<rect x="222.50" y="799.72" width="25.60" height="7.19" fill="#26828E"/>
<rect x="248.10" y="799.72" width="25.60" height="7.19" fill="#26828E"/>
<rect x="273.70" y="799.72" width="25.60" height="7.19" fill="#35B779"/>
<rect x="299.30" y="799.72" width="25.60" height="7.19" fill="#1F9E89"/>
<rect x="324.90" y="799.72" width="25.60" height="7.19" fill="#35B779"/>
<rect x="350.50" y="799.72" width="25.60" height="7.19" fill="#1F9E89"/>
<rect x="376.10" y="799.72" width="25.60" height="7.19" fill="#31688E"/>
<rect x="401.70" y="799.72" width="25.60" height="7.19" fill="#26828E"/>
<rect x="427.30" y="799.72" width="25.60" height="7.19" fill="#26828E"/>
<rect x="452.90" y="799.72" width="25.60" height="7.19" fill="#1F9E89"/>
<rect x="478.50" y="799.72" width="25.60" height="7.19" fill="#1F9E89"/>
<rect x="504.10" y="799.72" width="25.60" height="7.19" fill="#1F9E89"/>
<rect x="529.70" y="799.72" width="25.60" height="7.19" fill="#1F9E89"/>
<rect x="555.30" y="799.72" width="25.60" height="7.19" fill="#1F9E89"/>
<rect x="580.90" y="799.72" width="25.60" height="7.19" fill="#1F9E89"/>
<rect x="120.10" y="806.91" width="25.60" height="7.19" fill="#35B779"/>
<rect x="145.70" y="806.91" width="25.60" height="7.19" fill="#1F9E89"/>
<rect x="171.30" y="806.91" width="25.60" height="7.19" fill="#1F9E89"/>
<rect x="196.90" y="806.91" width="25.60" height="7.19" fill="#1F9E89"/>
<rect x="222.50" y="806.91" width="25.60" height="7.19" fill="#26828E"/>
<rect x="248.10" y="806.91" width="25.60" height="7.19" fill="#35B779"/>
<rect x="273.70" y="806.91" width="25.60" height="7.19" fill="#1F9E89"/>
<rect x="299.30" y="806.91" width="25.60" height="7.19" fill="#26828E"/>
<rect x="324.90" y="806.91" width="25.60" height="7.19" fill="#35B779"/>
<rect x="350.50" y="806.91" width="25.60" height="7.19" fill="#26828E"/>
<rect x="376.10" y="806.91" width="25.60" height="7.19" fill="#26828E"/>
<rect x="401.70" y="806.91" width="25.60" height="7.19" fill="#26828E"/>
<rect x="427.30" y="806.91" width="25.60" height="7.19" fill="#26828E"/>
<rect x="452.90" y="806.91" width="25.60" height="7.19" fill="#26828E"/>
<rect x="478.50" y="806.91" width="25.60" height="7.19" fill="#26828E"/>
<rect x="504.10" y="806.91" width="25.60" height="7.19" fill="#26828E"/>
<rect x="529.70" y="806.91" width="25.60" height="7.19" fill="#26828E"/>
<rect x="555.30" y="806.91" width="25.60" height="7.19" fill="#26828E"/>
<rect x="580.90" y="806.91" width="25.60" height="7.19" fill="#26828E"/>
<rect x="120.10" y="814.10" width="25.60" height="7.19" fill="#31688E"/>
<rect x="145.70" y="814.10" width="25.60" height="7.19" fill="#35B779"/>
<rect x="171.30" y="814.10" width="25.60" height="7.19" fill="#1F9E89"/>
<rect x="196.90" y="814.10" width="25.60" height="7.19" fill="#1F9E89"/>
<rect x="222.50" y="814.10" width="25.60" height="7.19" fill="#26828E"/>
<rect x="248.10" y="814.10" width="25.60" height="7.19" fill="#26828E"/>
<rect x="273.70" y="814.10" width="25.60" height="7.19" fill="#35B779"/>
<rect x="299.30" y="814.10" width="25.60" height="7.19" fill="#26828E"/>
<rect x="324.90" y="814.10" width="25.60" height="7.19" fill="#1F9E89"/>
<rect x="350.50" y="814.10" width="25.60" height="7.19" fill="#35B779"/>
<rect x="376.10" y="814.10" width="25.60" height="7.19" fill="#26828E"/>
<rect x="401.70" y="814.10" width="25.60" height="7.19" fill="#1F9E89"/>
<rect x="427.30" y="814.10" width="25.60" height="7.19" fill="#1F9E89"/>
<rect x="452.90" y="814.10" width="25.60" height="7.19" fill="#26828E"/>
<rect x="478.50" y="814.10" width="25.60" height="7.19" fill="#26828E"/>
<rect x="504.10" y="814.10" width="25.60" height="7.19" fill="#26828E"/>
<rect x="529.70" y="814.10" width="25.60" height="7.19" fill="#26828E"/>
<rect x="555.30" y="814.10" width="25.60" height="7.19" fill="#26828E"/>
<rect x="580.90" y="814.10" width="25.60" height="7.19" fill="#26828E"/>
<rect x="120.10" y="821.29" width="25.60" height="7.19" fill="#31688E"/>
<rect x="145.70" y="821.29" width="25.60" height="7.19" fill="#26828E"/>
<rect x="171.30" y="821.29" width="25.60" height="7.19" fill="#1F9E89"/>
<rect x="196.90" y="821.29" width="25.60" height="7.19" fill="#1F9E89"/>
<rect x="222.50" y="821.29" width="25.60" height="7.19" fill="#1F9E89"/>
<rect x="248.10" y="821.29" width="25.60" height="7.19" fill="#26828E"/>
<rect x="273.70" y="821.29" width="25.60" height="7.19" fill="#35B779"/>
<rect x="299.30" y="821.29" width="25.60" height="7.19" fill="#26828E"/>
<rect x="324.90" y="821.29" width="25.60" height="7.19" fill="#35B779"/>
<rect x="350.50" y="821.29" width="25.60" height="7.19" fill="#1F9E89"/>
<rect x="376.10" y="821.29" width="25.60" height="7.19" fill="#35B779"/>
<rect x="401.70" y="821.29" width="25.60" height="7.19" fill="#26828E"/>
<rect x="427.30" y="821.29" width="25.60" height="7.19" fill="#26828E"/>
<rect x="452.90" y="821.29" width="25.60" height="7.19" fill="#35B779"/>
<rect x="478.50" y="821.29" width="25.60" height="7.19" fill="#26828E"/>
<rect x="504.10" y="821.29" width="25.60" height="7.19" fill="#26828E"/>
<rect x="529.70" y="821.29" width="25.60" height="7.19" fill="#26828E"/>
<rect x="555.30" y="821.29" width="25.60" height="7.19" fill="#26828E"/>
<rect x="580.90" y="821.29" width="25.60" height="7.19" fill="#26828E"/>
</g>
<path d="M120.10,544.48 H96.20 V551.66 H120.10 M120.10,537.28 H86.50 V548.07 H96.20 M120.10,530.10 H76.80 V542.68 H86.50 M120.10,558.86 H65.80 V566.04 H120.10 M76.80,536.39 H51.30 V562.45 H65.80 M120.10,573.24 H92.60 V580.42 H120.10 M120.10,609.18 H109.60 V616.38 H120.10 M120.10,602.00 H102.30 V612.78 H109.60 M120.10,594.81 H99.50 V607.39 H102.30 M120.10,623.57 H101.00 V630.75 H120.10 M120.10,637.95 H109.60 V645.13 H120.10 M120.10,659.51 H105.90 V666.71 H120.10 M120.10,652.33 H103.50 V663.11 H105.90 M109.60,641.54 H98.60 V657.72 H103.50 M120.10,673.89 H97.40 V681.09 H120.10 M98.60,649.63 H94.40 V677.49 H97.40 M101.00,627.16 H88.90 V663.56 H94.40 M99.50,601.10 H86.50 V645.36 H88.90 M120.10,587.62 H81.60 V623.23 H86.50 M92.60,576.83 H79.20 V605.42 H81.60 M120.10,695.47 H88.90 V702.65 H120.10 M120.10,688.27 H80.40 V699.06 H88.90 M120.10,717.03 H91.30 V724.23 H120.10 M120.10,709.85 H84.00 V720.63 H91.30 M120.10,731.41 H88.90 V738.61 H120.10 M120.10,760.17 H97.40 V767.37 H120.10 M120.10,752.99 H90.10 V763.77 H97.40 M120.10,745.80 H87.70 V758.38 H90.10 M120.10,774.56 H86.50 V781.75 H120.10 M120.10,796.12 H103.50 V803.32 H120.10 M120.10,788.93 H92.60 V799.72 H103.50 M120.10,817.69 H93.80 V824.88 H120.10 M120.10,810.50 H88.90 V821.29 H93.80 M92.60,794.33 H80.40 V815.90 H88.90 M86.50,778.15 H76.80 V805.11 H80.40 M87.70,752.09 H69.50 V791.63 H76.80 M88.90,735.01 H65.80 V771.86 H69.50 M84.00,715.24 H59.80 V753.43 H65.80 M80.40,693.67 H52.50 V734.34 H59.80 M79.20,591.13 H38.50 V714.00 H52.50 M51.30,549.42 H35.80 V652.56 H38.50" fill="none" stroke="#1a1a1a" stroke-width="1.3" stroke-linecap="square"/>
<rect x="614.1" y="526.20" width="15.4" height="24.27" fill="#FDE725"/>
<rect x="614.1" y="550.17" width="15.4" height="24.27" fill="#B4DE2C"/>
<rect x="614.1" y="574.14" width="15.4" height="24.27" fill="#6DCD59"/>
<rect x="614.1" y="598.11" width="15.4" height="24.27" fill="#35B779"/>
<rect x="614.1" y="622.08" width="15.4" height="24.27" fill="#1F9E89"/>
<rect x="614.1" y="646.05" width="15.4" height="24.27" fill="#26828E"/>
<rect x="614.1" y="670.02" width="15.4" height="24.27" fill="#31688E"/>
<rect x="614.1" y="693.99" width="15.4" height="24.27" fill="#3E4A89"/>
<rect x="614.1" y="717.96" width="15.4" height="24.27" fill="#482878"/>
<rect x="614.1" y="741.93" width="15.4" height="24.27" fill="#440154"/>
<text transform="translate(636.07,548.60) scale(1.0248,1)" font-size="16.23" font-weight="normal" fill="#111">4</text>
<text transform="translate(636.51,601.50) scale(0.9632,1)" font-size="16.43" font-weight="normal" fill="#111">2</text>
<text transform="translate(637.06,654.05) scale(0.8741,1)" font-size="15.49" font-weight="normal" fill="#111">0</text>
<text transform="translate(636.69,705.90) scale(0.8122,1)" font-size="16.57" font-weight="normal" fill="#111">-2</text>
<text transform="translate(636.71,758.50) scale(0.8235,1)" font-size="15.94" font-weight="normal" fill="#111">-4</text>
<g fill="#111">
<text transform="translate(123.90,833.5) rotate(90) scale(1,1.15)" font-size="15.5">6 ketoPGF1α</text>
<text transform="translate(149.50,833.5) rotate(90) scale(1,1.15)" font-size="15.5">TXB2</text>
<text transform="translate(175.10,833.5) rotate(90) scale(1,1.15)" font-size="15.5">PGE2</text>
<text transform="translate(200.70,833.5) rotate(90) scale(1,1.15)" font-size="15.5">PGD2</text>
<text transform="translate(226.30,833.5) rotate(90) scale(1,1.15)" font-size="15.5">Resolvin D1</text>
<text transform="translate(251.90,833.5) rotate(90) scale(1,1.15)" font-size="15.5">PGA2</text>
<text transform="translate(277.50,833.5) rotate(90) scale(1,1.15)" font-size="15.5">14,15-DHET</text>
<text transform="translate(303.10,833.5) rotate(90) scale(1,1.15)" font-size="15.5">maresin 2</text>
<text transform="translate(328.70,833.5) rotate(90) scale(1,1.15)" font-size="15.5">11,12-DHET</text>
<text transform="translate(354.30,833.5) rotate(90) scale(1,1.15)" font-size="15.5">8,9-DHET</text>
<text transform="translate(379.90,833.5) rotate(90) scale(1,1.15)" font-size="15.5">20.HETE</text>
<text transform="translate(405.50,833.5) rotate(90) scale(1,1.15)" font-size="15.5">15 HETE</text>
<text transform="translate(431.10,833.5) rotate(90) scale(1,1.15)" font-size="15.5">12 HETE</text>
<text transform="translate(456.70,833.5) rotate(90) scale(1,1.15)" font-size="15.5">14,15-.EET</text>
<text transform="translate(482.30,833.5) rotate(90) scale(1,1.15)" font-size="15.5">5 HETE</text>
<text transform="translate(507.90,833.5) rotate(90) scale(1,1.15)" font-size="15.5">EPA</text>
<text transform="translate(533.50,833.5) rotate(90) scale(1,1.15)" font-size="15.5">DHA</text>
<text transform="translate(559.10,833.5) rotate(90) scale(1,1.15)" font-size="15.5">AA</text>
<text transform="translate(584.70,833.5) rotate(90) scale(1,1.15)" font-size="15.5">DHGLA</text>
</g>
</svg></body></html>
